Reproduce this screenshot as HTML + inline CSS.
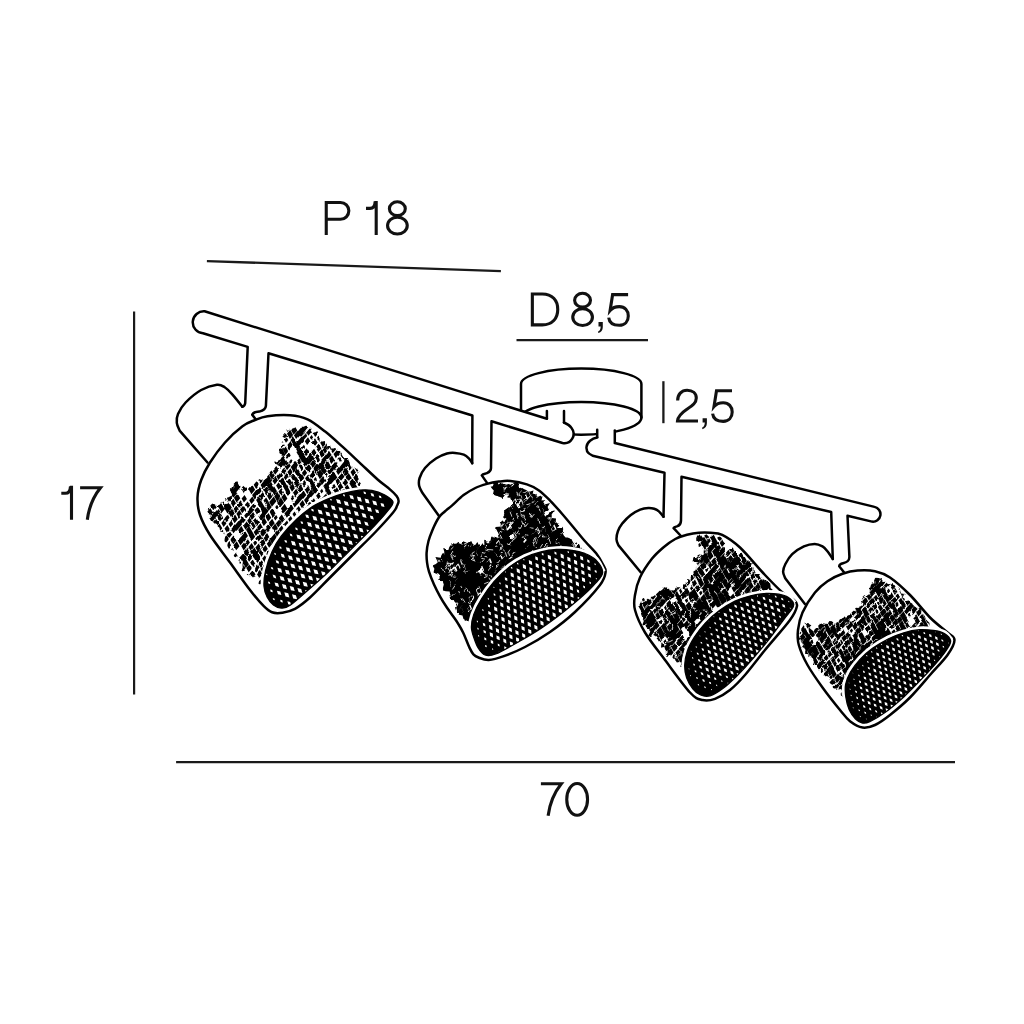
<!DOCTYPE html>
<html><head><meta charset="utf-8"><title>Lamp dimensions</title>
<style>
html,body{margin:0;padding:0;background:#fff;}
body{width:1024px;height:1024px;overflow:hidden;font-family:"Liberation Sans",sans-serif;}
svg{display:block;}
.t{font-family:"Liberation Sans",sans-serif;fill:transparent;stroke:none;}
.g{fill:none;stroke:#111;stroke-width:3.1;stroke-linecap:butt;stroke-linejoin:miter;}
.o{fill:#fff;stroke:#000;stroke-width:2.5;stroke-linejoin:round;stroke-linecap:round;}
.l{fill:none;stroke:#000;stroke-width:2.5;stroke-linejoin:round;stroke-linecap:round;}
</style></head><body>
<svg width="1024" height="1024" viewBox="0 0 1024 1024">
<rect width="1024" height="1024" fill="#fff"/>
<line x1="206.9" y1="261.1" x2="500.9" y2="271.1" stroke="#1a1a1a" stroke-width="2.3"/>
<line x1="516.5" y1="340.2" x2="648" y2="340.2" stroke="#1a1a1a" stroke-width="2.3"/>
<line x1="663.4" y1="381.2" x2="663.4" y2="423.2" stroke="#1a1a1a" stroke-width="2.3"/>
<line x1="134.1" y1="311.4" x2="134.1" y2="694.6" stroke="#1a1a1a" stroke-width="2.2"/>
<line x1="176.1" y1="762.2" x2="955" y2="762.2" stroke="#1a1a1a" stroke-width="2.3"/>
<path class="o" d="M521 384 A60.2 15.4 0 0 1 641.4 384 L641.4 417.5 A60.2 17.2 0 0 1 521 417.5 Z"/>
<path class="l" d="M521 417.5 A60.2 15.6 0 0 1 641.4 417.5"/>
<path class="l" d="M546.9 411 L546.9 419"/>
<path class="l" d="M564 411 L564 422.6"/>
<rect x="597.2" y="428" width="17.6" height="16" fill="#fff"/>
<path class="l" d="M597.2 429.7 L597.2 437.5"/>
<path class="l" d="M614.8 430.5 L614.8 443"/>
<path class="l" d="M242.3 406.8C242.3 406.8 235.4 398 232.5 394.7C229.6 391.4 227.3 388.8 224.7 387.2C222.1 385.6 220.8 384.3 216.9 384.8C213 385.3 206.4 387.1 201.2 390C196 392.9 189.5 398.5 185.6 402.5C181.7 406.5 179.5 410.6 178 414C176.5 417.4 176.5 420 176.8 422.8C177.1 425.6 179.1 429.3 179.6 430.6L207.5 462.5"/>
<path class="l" d="M472.2 463.2C472.2 463.2 470.5 460 469.1 458.6C467.7 457.2 466.2 455.6 463.8 454.6C461.4 453.7 457.8 453.1 455 452.9C452.2 452.7 450.2 452.6 447 453.5C443.8 454.4 439.7 456.1 436 458.5C432.3 460.9 427.7 464.8 425 468C422.3 471.2 420.6 475 419.6 478C418.6 481 418.7 483.5 419.2 486C419.7 488.5 421.9 491.8 422.5 493L439 516"/>
<path class="l" d="M663.5 516.7C663.5 516.7 660.4 512.7 658.9 511.4C657.4 510.1 656 509.4 654.2 508.8C652.5 508.2 650.7 507.8 648.4 507.9C646.1 508 643.1 508.4 640.2 509.6C637.3 510.8 633.7 512.6 630.8 514.9C627.9 517.1 624.8 520.4 622.6 523.1C620.5 525.8 618.9 528.6 617.9 531.3C616.9 534 616.4 537.1 616.5 539.5C616.6 541.9 618.2 544.4 618.5 545.4L640.7 572.3"/>
<path class="l" d="M832.8 559C832.8 559 829.1 553.3 827.4 551.2C825.7 549.1 824.6 547.6 822.5 546.4C820.4 545.2 817.8 543.9 814.7 543.9C811.6 543.9 807.6 544.7 803.9 546.4C800.1 548.1 795.3 551.3 792.2 554.2C789.1 557.1 786.9 561.1 785.4 564C783.9 566.9 783.1 569.4 783.1 571.8C783.1 574.2 785 577.5 785.4 578.6L804.9 604"/>
<path d="M203.6 311 L566 424.8 A9.3 9.3 0 0 1 562.5 443 L202 333 A11 11 0 0 1 203.6 311Z" fill="#fff"/>
<path class="l" d="M546.9 418.8 L204.6 311.3 A10.8 10.8 0 0 0 203 333.3L247.7 346.9 L245.2 403.3 Q244.6 406.4 242.3 406.8"/>
<path class="l" d="M256.6 420.4 L252.2 414.7 C253 412.3 254.9 412 259.3 411.6 C263.7 410.5 265.7 409 265.9 405.9 L268.5 353.3L472.4 415.5 L472.2 463.2"/>
<path class="l" d="M487.9 484.1 L481.8 475.4 C483 473.6 485 474 487 473.2 C490.5 471.8 490.9 470.5 491 468.3 L491.5 421.3L562.5 443 A9.3 9.3 0 0 0 571.5 428 C569.5 424.5 566 423.5 564 422.6"/>
<path d="M614.8 443 L874.5 506.9 A7.46 7.46 0 0 1 872 521.6 L596.9 456.7 A8.8 8.8 0 0 1 597.2 437.5Z" fill="#fff"/>
<path class="l" d="M597.2 437.5 C592 438.5 587 442 586.5 447 C586 452 590 455.5 596.9 456.7L664.5 472.7 L663.5 516.7"/>
<path class="l" d="M681 536 L673.6 528.1 C674.3 526.8 676 526.8 677.5 526.2 C680.3 525 680.9 523.5 681 520.6 L681.5 476.7L831.2 512 L832.8 559"/>
<path class="l" d="M844 572.2 L839.2 566.2 C839.5 564 841 563.6 843 563.2 C847.5 562.3 849.2 561 849.4 557 L847.5 515.8L872 521.6 A7.46 7.46 0 0 0 874.5 506.9 L614.8 443"/>
<path class="o" d="M255 420C259.2 418.3 261.7 417 267.5 416.2C273.3 415.4 283.3 414.7 290 415.2C296.7 415.7 301.7 416.6 307.6 419.3C313.5 422 319.4 427 325.2 431.6C331 436.2 336.8 441.6 342.7 446.9C348.6 452.2 354.4 457.8 360.3 463.3C366.2 468.8 373 475.4 377.9 479.7C382.8 484 386.5 486.4 389.6 489.1C392.7 491.8 395.1 494.1 396.6 496.1C398.1 498.1 398.5 499.4 398.6 501C398.7 502.6 397.9 503.9 397 505.8C396.1 507.7 396.8 508.1 393.1 512.5C389.4 517 381.4 525.8 375 532.5C368.6 539.2 362.5 545 355 552.5C347.5 560 337.5 570 330 577.5C322.5 585 315.8 592.3 310 597.5C304.2 602.7 299.6 606.3 295 608.8C290.4 611.3 286.3 612.1 282.5 612.7C278.7 613.3 275.1 613.4 272 612.3C268.9 611.2 267.5 609.9 263.8 606.2C260.1 602.5 255.6 597.3 250 590C244.4 582.7 236.7 571.7 230 562.5C223.3 553.3 215 542.9 210 535C205 527.1 202.1 521.2 200 515C197.9 508.8 197.3 503.3 197.5 497.5C197.7 491.7 199.1 485.8 201.2 480C203.3 474.2 206 468.8 210 462.5C214 456.2 219.6 448.6 225 442.5C230.4 436.4 237.5 429.9 242.5 426.2C247.5 422.4 250.8 421.7 255 420Z"/>
<path class="o" d="M487 483.9C490.9 482.8 494.9 482.1 498.8 481.6C502.7 481.1 505.8 480.5 510.5 481C515.2 481.5 522.2 482.9 526.9 484.4C531.6 485.9 534.7 487.5 538.6 490.2C542.5 492.9 546.4 496.9 550.3 500.8C554.2 504.7 558.1 509.2 562 513.7C565.9 518.2 569.9 523 573.8 527.7C577.7 532.4 581.6 537.3 585.5 541.8C589.4 546.3 594.3 550.9 597.2 554.7C600.1 558.5 601.6 561.6 603 564.5C604.4 567.4 606.1 568.6 605.6 572C605.1 575.4 605.1 578.3 600 585C594.9 591.7 583.3 604.2 575 612C566.7 619.8 558.3 626.2 550 632C541.7 637.8 532.7 643 525 647C517.3 651 509.9 654 503.9 656.2C497.8 658.4 492.9 659.8 488.7 660C484.5 660.2 481.1 658.5 478.5 657.5C475.9 656.5 474.9 655.9 473.4 654.3C471.9 652.7 471.3 651.5 469.6 647.9C467.9 644.3 465.1 636.7 463.2 632.7C461.3 628.7 459.9 626.5 458.2 623.8C456.5 621 455 619 453.1 616.2C451.2 613.5 448.8 610.5 446.7 607.3C444.6 604.1 442.5 600.9 440.4 597.1C438.3 593.3 435.9 588.6 434 584.4C432.1 580.2 430.1 575.3 429 571.7C427.9 568.1 427.5 566.1 427.1 562.9C426.7 559.7 426.4 556.4 426.6 552.7C426.8 549.1 427.5 544.8 428.5 541C429.5 537.2 430.8 534 432.5 530C434.2 526 436.9 520.4 439 517.3C441.1 514.2 442.7 513.5 444.8 511.5C446.9 509.6 448.8 508.3 451.9 505.6C455 502.9 459.7 498 463.6 495.1C467.5 492.2 471.4 489.9 475.3 488C479.2 486.1 483.1 485 487 483.9Z"/>
<path class="o" d="M675.3 539C679.2 536.9 683.1 535.8 687 534.8C690.9 533.8 694.9 533.1 698.8 532.8C702.7 532.5 706.6 532.5 710.5 532.8C714.4 533.1 717.3 532.3 722.2 534.8C727.1 537.2 732.9 540.8 740 547.5C747.1 554.2 757.9 567.5 765 575C772.1 582.5 777.7 588.3 782.5 592.5C787.3 596.7 791.4 597.8 793.8 600C796.2 602.2 797.6 602.7 797 606C796.4 609.3 795.3 612.7 790 620C784.7 627.3 772.5 640.8 765 650C757.5 659.2 750.8 668.3 745 675C739.2 681.7 735 686 730 690C725 694 719.6 697.1 715 698.8C710.4 700.5 706.7 701 702.5 700C698.3 699 696.2 699.2 690 692.5C683.8 685.8 672.5 670 665 660C657.5 650 650 640.8 645 632.5C640 624.2 636.7 616.2 635 610C633.3 603.8 634.2 600.4 635 595C635.8 589.6 637.2 583.5 640 577.5C642.8 571.5 648 563.8 651.9 558.8C655.8 553.8 659.7 550.5 663.6 547.2C667.5 543.9 671.4 541.1 675.3 539Z"/>
<path class="o" d="M842.5 573.8C847.5 572 852.1 570.9 857.5 570.5C862.9 570.1 869.6 570 875 571.2C880.4 572.4 884.2 573.5 890 577.5C895.8 581.5 903.3 588.3 910 595C916.7 601.7 923.8 611.2 930 617.5C936.2 623.8 943.4 628.8 947.5 632.5C951.6 636.2 954.5 636.2 954.5 640C954.5 643.8 951.6 649.2 947.5 655C943.4 660.8 936.2 667.9 930 675C923.8 682.1 916.7 690.8 910 697.5C903.3 704.2 895.8 710.4 890 715C884.2 719.6 879.6 722.9 875 725C870.4 727.1 866.7 728.1 862.5 727.5C858.3 726.9 853.8 724.1 850 721.2C846.2 718.3 844.6 715.6 840 710C835.4 704.4 827.9 695 822.5 687.5C817.1 680 811.5 672.1 807.5 665C803.5 657.9 800.4 650.8 798.8 645C797.2 639.2 797.4 635.4 798 630C798.6 624.6 799.7 618.8 802.5 612.5C805.3 606.2 810.8 597.7 815 592.5C819.2 587.3 822.9 584.3 827.5 581.2C832.1 578.1 837.5 575.6 842.5 573.8Z"/>
<clipPath id="h1"><path d="M295.6 427L298.9 424.3L300.6 427.4L302.9 428.1L305.9 426.7L308.3 427.3L311.3 425.8L312.5 430.3L314.4 432.5L319.8 430.9L318 435.6L319.7 437.2L319.4 440.6L321.9 441.6L327.5 439.8L326.9 443.5L326.9 446.6L330.2 445.5L331.1 448.4L333.7 448.6L337.6 446.5L336.9 452.1L339.6 451.9L341.3 453.6L342.5 456L344.2 457.9L347.8 458L348.7 460.7L349.9 463.1L350.4 466.2L353.4 466.9L355.9 468.4L358.1 470.1L359.6 472.1L357.9 475.8L358.6 478.2L360.4 480.1L361.2 482.5L361.6 484.5L360.1 486.1L360 488L359.4 490.2L343.8 493.3L328.1 498.8L312.5 506.6L296.9 519L281.2 536.2L271.9 551.9L265.6 570.6L264 586.2L261.4 584.9L258.5 583.8L259.1 580.2L258.1 577.8L256.1 577.1L253.5 578.4L251.9 576.2L247.7 576.1L245 575L244.7 571.9L241.6 571L242.7 566.9L242.5 563.8L238.5 563.6L238.6 560.4L238 557.6L234.6 557.1L233.3 554.8L234.3 550.8L231.6 549.7L226.2 549.3L227.3 546L227.7 543L224.3 541.7L224.7 538.7L225.3 535.6L224.4 533.2L221.3 532.6L220 530.4L219.5 527.7L217.5 526.2L216.8 523.9L213.9 522.8L211.7 521.3L208.3 520.5L208.3 517.9L211.2 513.8L207.4 512.9L204.3 511.7L209.7 508.3L211.1 504.7L213.3 503.6L216.3 504.8L219 505.2L221.2 502.7L223.4 501.6L226.1 504.9L228.4 504.4L227.7 501.8L224.5 498.5L228.5 497.3L231.4 495.7L231.6 493.4L229.3 490.2L231.3 488.6L232.2 486.5L233.7 484.7L235.8 483.1L236.2 480.9L239.3 481.7L240.8 483.5L240.6 486.3L240.9 488.8L242.1 484.8L245.3 487.7L247.6 487.2L249.8 486.4L251.9 485.6L252.7 482.5L254.1 480.8L256 479.9L258.3 479.8L261.2 480.9L263.5 480.3L265.4 479L267.3 477.8L266.3 472.3L270.6 474.7L268.1 470.3L272.6 470.6L274.6 469.2L275.2 466.9L276.9 465.3L274.8 462L278.4 460.6L280.4 459.5L281.5 457.4L283.1 455.9L279.7 454.6L279.3 452L280 448.9L282.1 448.2L282 444.9L284.4 444.5L286.2 443.4L280.8 441.9L286 438.6L282.4 436.8L284.7 434L286.9 433.1L286.5 429.6L289.4 429.4L289.6 423.9L293.8 428.6Z"/></clipPath>
<filter id="wh1" filterUnits="userSpaceOnUse" x="201.7" y="419" width="167.5" height="175.2"><feTurbulence type="fractalNoise" baseFrequency="0.14" numOctaves="2" seed="10"/><feDisplacementMap in="SourceGraphic" scale="3.2" xChannelSelector="R" yChannelSelector="G"/></filter>
<g filter="url(#wh1)">
<path clip-path="url(#h1)" d="M203.8 505.2L206.4 502.1L209.2 507L206.6 510.1ZM207.4 511.5L210.3 507.9L213 512.6L210 516.1ZM209.3 518L214.9 511.3L217.4 515.6L211.8 522.3ZM212.1 523L216.3 517.9L219.2 522.9L215 528ZM216 527.7L219.5 523.5L222.3 528.3L218.8 532.5ZM219.4 533.6L222.6 529.8L225.2 534.4L222 538.2ZM223.3 538.9L226.3 535.3L228.7 539.6L225.7 543.2ZM226.5 544.6L229.6 540.9L232.1 545.3L229 549ZM230.4 550.4L232.5 547.9L234.2 550.9L232.1 553.5ZM232.9 556.3L236.1 552.5L238.7 557L235.5 560.9ZM237.2 562.7L239.4 560.1L240.8 562.5L238.6 565.1ZM239.2 567.4L242.7 563.2L245.5 568.2L242 572.4ZM245.9 578.1L249.1 574.3L251.6 578.8L248.4 582.6ZM210.9 506.3L213.8 502.8L216.1 506.8L213.2 510.3ZM214.8 512.6L217.7 509.1L220.1 513.4L217.2 516.8ZM217.5 517.3L220.7 513.4L223.1 517.7L219.9 521.5ZM221.3 522.9L224.2 519.5L226.4 523.5L223.6 526.9ZM224.5 528.5L227.4 525.1L229.7 529.1L226.8 532.5ZM226.6 534.7L230.1 530.5L232.3 534.3L228.8 538.5ZM230.5 539.2L233.5 535.5L236.4 540.5L233.3 544.2ZM233.4 545.2L236.7 541.3L239.5 546.3L236.2 550.3ZM239.8 557.3L243.5 552.9L245.9 557L242.2 561.5ZM242.1 561.3L245.2 557.6L249 564.2L245.8 567.9ZM246.3 568.1L249.4 564.5L251.7 568.7L248.7 572.3ZM249.8 573.6L252.9 569.9L255.5 574.4L252.4 578.1ZM253 579.8L255.3 577.1L257.1 580.2L254.8 583ZM255.8 585.1L259.9 580.2L262.8 585.3L258.7 590.1ZM214.7 502.6L219.7 496.6L222.4 501.4L217.4 507.4ZM216.8 506L220.4 501.7L224.7 509.3L221.1 513.5ZM224.4 518.4L227.4 514.8L229.6 518.7L226.6 522.3ZM228.6 523.9L231.3 520.6L233.2 524L230.5 527.3ZM231.1 529.2L234 525.8L236.3 529.7L233.4 533.2ZM237.7 540.6L240.8 537L243.4 541.7L240.4 545.3ZM241.2 546L244.1 542.4L246.6 546.8L243.7 550.4ZM243.7 551.7L247 547.8L249.3 551.8L246 555.8ZM246.6 557.4L250.1 553.3L252.5 557.6L249.1 561.8ZM250.2 562.5L252.7 559.4L255.4 564.1L252.9 567.2ZM254 568.2L256.9 564.6L259.3 568.8L256.4 572.4ZM257 574.2L259.9 570.7L262.1 574.5L259.2 578.1ZM260.1 580.4L263.6 576.3L266.1 580.7L262.6 584.8ZM263 585.8L266.1 582L268.9 586.7L265.7 590.5ZM222.1 501.7L225.5 497.7L229.4 504.5L226 508.5ZM224.5 508.5L228.5 503.6L231.4 508.8L227.4 513.6ZM228.2 513.3L232 508.7L234.7 513.4L230.9 517.9ZM231.8 518.4L235.1 514.5L237.8 519.3L234.6 523.2ZM233.9 526.6L239.3 520.1L241.9 524.6L236.5 531.1ZM238.2 529.9L241.4 526.1L244.2 531.1L241 534.9ZM240.4 537.4L245.4 531.4L248 535.9L242.9 541.9ZM244.8 541.7L247.5 538.4L249.9 542.6L247.2 545.9ZM248.5 547L251.7 543L254 547.1L250.8 551ZM251.1 551.5L254.4 547.5L258.1 554L254.8 558ZM254.7 557.6L257.6 554.1L260.2 558.6L257.3 562.1ZM257.6 564L260.8 560.2L263 564.2L259.9 567.9ZM260.1 569.3L263.6 565.1L266.2 569.6L262.6 573.8ZM264.2 574.6L267.6 570.5L270.5 575.6L267.1 579.6ZM226.5 497.6L230.1 493.3L232.5 497.5L228.9 501.8ZM229.8 503.1L233.4 498.8L236 503.3L232.4 507.6ZM233.3 509.2L236.5 505.3L238.8 509.5L235.6 513.3ZM236.4 513.8L239.5 510.1L241.9 514.2L238.8 517.9ZM239.1 520L242.4 516L244.7 520.1L241.4 524ZM242.8 525L246.3 520.8L249.1 525.6L245.5 529.8ZM246 529.8L249.1 526L252.4 531.7L249.2 535.5ZM248.5 536L252.2 531.6L255.2 536.8L251.5 541.3ZM253.2 542.8L255.5 540.1L257.2 543L254.8 545.7ZM255.4 547.5L258.7 543.5L261.5 548.4L258.2 552.4ZM258.3 552.8L260.9 549.7L263.4 554L260.8 557.2ZM262.2 558.5L264.9 555.3L267.4 559.8L264.8 562.9ZM264.4 563.1L267.5 559.4L271.3 566L268.2 569.7ZM227 485.2L230.1 481.5L234.2 488.8L231.2 492.5ZM230.9 492.7L234.4 488.5L237.1 493.2L233.6 497.4ZM233.9 497.8L237.6 493.5L240.3 498.2L236.6 502.6ZM237.6 503.9L240.7 500.2L243.1 504.3L240 508ZM240 509.4L242.9 505.9L245.2 509.8L242.2 513.3ZM244.2 514.5L247.1 510.9L249.3 514.7L246.3 518.3ZM247.2 520.6L250.4 516.8L252.6 520.7L249.4 524.5ZM250 525.1L252.9 521.6L255.7 526.6L252.8 530ZM253.7 532.1L257.1 528.1L259.2 531.9L255.9 535.9ZM256.3 537.5L259.9 533.3L262.2 537.3L258.6 541.5ZM259.6 542.7L263.1 538.5L265.7 543L262.1 547.2ZM262.3 548.8L265.6 544.9L268.2 549.6L264.9 553.5ZM266.4 554.2L269.6 550.4L272.2 555L269 558.8ZM268.9 559.6L272.2 555.7L275.1 560.7L271.8 564.6ZM230.8 480.5L233.9 476.8L237.9 483.9L234.9 487.6ZM233.2 487.8L238.1 482L240.8 486.8L236 492.6ZM241.6 498.6L244.6 495L246.9 499L243.9 502.6ZM244.9 504.7L247.7 501.4L250.1 505.5L247.2 508.9ZM246.4 511.9L251.8 505.4L254.3 509.8L248.9 516.2ZM250.3 515.6L253.2 512.1L255.8 516.6L252.8 520.1ZM253.7 521.1L256.4 517.9L259.1 522.7L256.4 525.9ZM257.1 527.2L260.4 523.2L262.8 527.4L259.5 531.4ZM260.4 532.6L263.9 528.4L266.3 532.6L262.8 536.8ZM263.7 538.1L267.1 534.1L269.3 538L265.9 542.1ZM266.8 543.7L269.7 540.3L272 544.3L269.1 547.7ZM270.1 549.6L273 546.2L275.3 550.3L272.4 553.7ZM241.2 488.4L244.8 484.1L247.7 489.1L244 493.5ZM249.2 500.2L252.4 496.4L254.6 500.2L251.4 504.1ZM252.6 505.8L254.7 503.4L256.2 506L254.1 508.5ZM254.5 510.3L257.4 506.9L259.8 511L256.9 514.4ZM258.4 516.2L261.7 512.2L264.3 516.9L261 520.9ZM261 521.2L264.2 517.4L267 522.2L263.8 526.1ZM264.8 528.2L268.6 523.7L270.9 527.8L267.1 532.3ZM269.5 539.5L274.6 533.4L277.3 538.1L272.2 544.3ZM273.9 543.6L277.1 539.9L280.6 546.1L277.4 549.8ZM247.5 483.3L249.5 481L250.9 483.4L248.9 485.8ZM249 490L252.7 485.6L255.1 489.8L251.4 494.2ZM252.1 495L257 489.1L259.7 493.7L254.7 499.6ZM256.1 499.9L259.2 496.2L261.8 500.7L258.7 504.4ZM257.7 504.2L260.9 500.5L265.1 507.8L262 511.6ZM260.9 512.5L265.6 506.9L268.3 511.6L263.6 517.2ZM265.4 516.8L268.5 513.1L271.2 517.8L268.1 521.5ZM268.8 522.8L272.2 518.8L274.7 523.2L271.3 527.2ZM271.9 527.7L275.2 523.6L277.9 528.3L274.5 532.3ZM274.8 533L278 529.2L280.7 534.1L277.6 537.8ZM277.8 539.7L280.8 536.1L283.4 540.5L280.4 544.1ZM253.7 484.7L256.5 481.3L258.7 485.1L255.8 488.5ZM256.8 490.5L259.9 486.9L262 490.6L259 494.3ZM259.6 495.9L262.8 492L264.7 495.3L261.5 499.2ZM263.5 500.5L266.2 497.4L268.6 501.6L266 504.7ZM265.4 505.6L268.6 501.8L271.6 507.2L268.5 510.9ZM269.8 512.3L272.8 508.7L275.6 513.4L272.5 517.1ZM273.7 517.8L276.2 515L277.7 517.6L275.3 520.5ZM275.8 523.4L279.2 519.4L281.6 523.6L278.2 527.6ZM278.8 529.1L281.8 525.5L284.1 529.6L281.1 533.1ZM282.7 534L285.4 530.9L287.6 534.7L284.9 537.9ZM257.5 478.6L261.3 474.2L264.1 479.2L260.4 483.6ZM260.6 485L264.2 480.6L266.8 485L263.1 489.4ZM264 490.6L267.2 486.8L269.4 490.7L266.3 494.5ZM267 495.8L270.2 492L272.7 496.3L269.5 500.2ZM269.2 502.1L273.8 496.6L276.4 501.3L271.9 506.7ZM275.2 507.1L277.1 504.8L278.6 507.5L276.7 509.8ZM279.2 518.8L282.8 514.4L285.3 518.8L281.7 523.2ZM283.9 524.1L287 520.4L289.3 524.6L286.2 528.2ZM285.9 528.2L289 524.5L292.8 531.2L289.7 534.9ZM263.4 481.1L268.7 474.8L271.2 479.3L266 485.6ZM266.5 485L270.3 480.5L274.1 487.3L270.4 491.7ZM270.7 490.6L274.2 486.4L277 491.2L273.4 495.5ZM273.8 495.5L277.2 491.5L280.5 497.4L277.2 501.4ZM277.2 501.9L281 497.4L284.1 502.7L280.3 507.2ZM280.9 508.4L284.7 503.8L287.5 508.7L283.6 513.3ZM284.4 513.6L288.1 509.2L290.4 513.4L286.8 517.7ZM288.1 519.1L290.8 515.9L293 519.7L290.3 522.9ZM290.5 525.5L293.3 522.1L295.3 525.6L292.5 529ZM268.6 473.8L271.5 470.2L275 476.3L272.1 479.9ZM272.5 480.7L275.8 476.7L278 480.5L274.7 484.6ZM276.1 485.4L278.7 482.3L281.2 486.7L278.6 489.8ZM278.5 491.5L281.4 488L284 492.5L281 496ZM281.4 497.1L284.5 493.5L287.4 498.6L284.4 502.2ZM287.4 508.6L291.2 504L293.8 508.5L290 513.1ZM292.5 513.9L294.6 511.4L296.3 514.4L294.2 516.9ZM294.5 519.7L297.4 516.2L300.2 520.9L297.2 524.5ZM272.9 471L276.3 466.9L278.5 470.6L275.1 474.7ZM276.4 476.3L280 472L282 475.6L278.5 479.9ZM279.5 480.9L282.4 477.4L284.8 481.6L281.8 485.1ZM282 484.8L284.8 481.5L288.8 488.7L286.1 491.9ZM285.5 492.1L288.6 488.4L290.8 492.4L287.8 496ZM290.8 498.5L292.8 496.1L294.1 498.4L292.1 500.8ZM292.3 503.3L295.6 499.4L298 503.5L294.7 507.4ZM296.2 509.1L298.8 505.9L300.8 509.5L298.2 512.7ZM299.2 514.7L302.2 511L304.6 515.2L301.6 518.9ZM274.1 460L277.7 455.6L280.7 460.8L277 465.2ZM277.6 465L280.9 461L283.2 464.9L279.8 468.9ZM281.1 471.1L284.3 467.4L286.4 471L283.2 474.8ZM283.2 476.2L286.2 472.5L288.5 476.5L285.4 480.2ZM286.6 481.7L289.5 478.2L292.3 483.1L289.4 486.6ZM289.5 487.2L292.7 483.4L295.2 487.8L292 491.7ZM292.7 492.9L296.2 488.7L298.8 493.2L295.2 497.4ZM294.9 500.1L300.3 493.7L302.8 498.2L297.5 504.6ZM299.5 504L302.7 500.1L305.1 504.4L301.9 508.2ZM303.5 509.9L306.4 506.4L308.3 509.7L305.4 513.3ZM273.9 450.1L279.4 443.5L282.4 448.8L276.9 455.4ZM276.4 455.3L282 448.6L285 453.9L279.4 460.6ZM280 459.6L283.5 455.4L287.5 462.4L283.9 466.6ZM284.7 466.4L288.5 461.9L290.7 465.8L287 470.2ZM287.4 471.9L290.4 468.3L292.9 472.7L289.9 476.2ZM291 476.9L293.8 473.6L296.3 478L293.5 481.4ZM293.1 481.1L296.5 477L300.3 483.7L296.9 487.8ZM297.3 488.4L300.9 484.1L303.3 488.3L299.7 492.6ZM300.4 494.4L303.6 490.4L306.3 495.1L303 499.1ZM304 499.9L307.4 495.9L309.9 500.3L306.5 504.3ZM307.2 505.8L310.6 501.7L312.9 505.9L309.5 510ZM310.2 510.6L313.5 506.7L316.2 511.4L312.9 515.3ZM279.6 444.6L282.4 441.2L284.8 445.3L281.9 448.7ZM282.9 449.9L285.7 446.6L288 450.7L285.2 453.9ZM286 455.7L288.9 452.2L290.7 455.5L287.9 458.9ZM289.2 461.5L291.2 459.1L292.5 461.4L290.5 463.8ZM290.7 466.9L295.7 460.9L298.4 465.7L293.4 471.7ZM294.5 470.8L297.2 467.5L301.4 474.7L298.6 478ZM298.3 477.1L301.6 473.2L304.3 478.1L301.1 482ZM302.3 483.7L304.5 481.1L306.2 484L304 486.6ZM304.6 489.2L308 485.1L310.8 490L307.3 494.1ZM306.8 495.8L312.1 489.5L314.3 493.5L309 499.8ZM312.1 500.4L313.9 498.3L315.4 500.9L313.6 503.1ZM279.2 432L282.6 427.9L287 435.5L283.5 439.6ZM284.1 439.4L286.3 436.7L288.2 440.1L286 442.7ZM286.4 444.9L290.1 440.5L292.8 445.2L289.1 449.6ZM296.8 461.2L299.4 458.2L301.6 461.9L299 465ZM298.8 466.7L301.4 463.5L304 468.2L301.4 471.3ZM302 472.7L304.9 469.3L307.1 473L304.2 476.5ZM305.1 478.2L308.2 474.5L310.9 479.2L307.8 482.9ZM308.4 482.4L311.6 478.6L315.5 485.5L312.3 489.3ZM312.2 489.5L315.4 485.7L317.7 489.7L314.5 493.5ZM315.1 495.7L318.1 492.1L320.7 496.5L317.7 500.1ZM317.8 501.9L322.7 496L324.9 499.9L320 505.8ZM283.8 429L287.1 425.1L289.5 429.3L286.2 433.2ZM287 433.7L290.2 429.8L293.1 435L289.9 438.9ZM290.6 439.9L293.8 436.1L296.4 440.7L293.2 444.5ZM292.6 444.8L296.4 440.3L300.3 447L296.5 451.6ZM296.7 451.5L300.6 446.7L303.3 451.4L299.3 456.2ZM298.4 455.7L302.1 451.3L306.1 458.2L302.4 462.6ZM302.6 461.6L305.9 457.7L308.8 462.8L305.5 466.7ZM305.8 467.8L309 464L311.6 468.5L308.4 472.4ZM309.8 474.2L313.3 470L315.8 474.2L312.2 478.5ZM313.7 479.3L315.6 477.1L316.9 479.3L315 481.6ZM316.3 484.5L319.3 480.9L321.5 484.6L318.4 488.3ZM320.1 491L321.9 488.8L323.3 491.2L321.5 493.4ZM322.6 496.6L325.6 493L327.7 496.7L324.7 500.3ZM325.3 501.4L328.3 497.9L331.2 502.9L328.2 506.4ZM291.1 430.3L294.7 425.9L297.3 430.5L293.7 434.8ZM294.5 434.4L297.6 430.7L300.2 435.2L297.1 438.9ZM296.5 442.5L301.7 436.4L303.9 440.3L298.8 446.4ZM301.8 447.3L303.9 444.7L305.1 446.8L303 449.4ZM303.6 452L306.7 448.2L309.2 452.5L306 456.3ZM306 458.7L311.1 452.6L313.9 457.6L308.8 463.7ZM310 463.1L313.4 459L316.1 463.8L312.7 467.9ZM313.4 468.7L317.5 463.8L320.4 468.8L316.3 473.7ZM317 474.1L320.6 469.8L323.5 474.9L319.9 479.2ZM319.4 480.5L322.9 476.4L325.3 480.7L321.9 484.9ZM323.3 486.1L326.7 482L329.1 486.2L325.7 490.3ZM325.4 490.6L328.8 486.6L332.5 493L329.1 497ZM330.4 496.9L332 494.9L333.7 497.8L332 499.8ZM297.5 431.8L302.8 425.5L305.6 430.3L300.2 436.7ZM301.5 436.2L305.1 432L307.3 435.9L303.7 440.1ZM304.8 441.2L308 437.3L310.3 441.2L307.1 445.1ZM311.7 451.6L314.1 448.7L316.7 453.2L314.3 456.1ZM314.6 458L317.3 454.8L319.9 459.4L317.2 462.6ZM318.4 464.5L321.5 460.8L323.7 464.6L320.6 468.3ZM319.7 468.1L322.9 464.3L326.9 471.3L323.8 475.1ZM325.4 475.1L327.2 472.9L328.7 475.5L326.9 477.7ZM325.8 481.4L331.1 475.2L333.7 479.7L328.4 486ZM332 486.3L334.2 483.8L335.8 486.7L333.7 489.2ZM333.9 490.9L336.9 487.2L339.9 492.5L336.9 496.1ZM336.5 497.7L339.8 493.7L342.6 498.6L339.3 502.6ZM302.9 425.6L306.1 421.8L308.7 426.4L305.5 430.2ZM306.1 431.8L309.7 427.6L311.9 431.5L308.4 435.7ZM309.8 437.3L311.7 435L313.1 437.4L311.2 439.7ZM311.9 441.9L315 438.2L317.6 442.8L314.5 446.5ZM315.7 447.3L318.7 443.7L321.4 448.5L318.4 452.1ZM318.9 453L322.1 449.1L324.9 454L321.7 457.8ZM321 460.3L326 454.4L328.6 458.9L323.6 464.8ZM324.5 465L327.9 461L330.4 465.4L327 469.4ZM327.2 471.2L332.1 465.4L334.3 469.2L329.4 475ZM330.8 474.9L333.7 471.4L337.3 477.6L334.3 481.1ZM335.4 480.9L338.1 477.7L340 481.2L337.4 484.4ZM337.7 486.2L340.6 482.7L343.4 487.6L340.5 491ZM340.9 493.1L344.3 489L346.9 493.6L343.5 497.7ZM312.7 432.6L316.6 428L319.1 432.3L315.2 437ZM317 437.5L320.1 433.8L322.5 438L319.4 441.7ZM320.2 442.7L322.8 439.6L325.4 444.2L322.8 447.3ZM322.6 448.7L325.5 445.3L327.8 449.3L324.9 452.7ZM325.7 454.6L329 450.7L331.6 455.1L328.3 459.1ZM328.7 459.3L332 455.4L334.6 460L331.3 464ZM332.1 465.5L335.2 461.7L338 466.6L334.9 470.4ZM336.1 471.3L339.4 467.5L341.5 471.2L338.2 475.1ZM338.7 476.8L342.1 472.7L344.4 476.7L341 480.8ZM342.5 481.9L345.5 478.3L348.1 482.8L345.1 486.3ZM344.8 487.4L347.4 484.4L350.1 489.2L347.5 492.2ZM348.1 492.9L351.3 489L353.6 493.1L350.5 496.9ZM325.5 444.9L330.9 438.5L333.5 443.1L328.2 449.5ZM330 448.6L333.4 444.6L336.1 449.3L332.7 453.3ZM333.5 454.1L336.8 450.2L339.4 454.8L336.1 458.7ZM337.4 460.1L339.2 457.9L340.8 460.7L339 462.9ZM339.3 467.4L344.1 461.6L346.5 465.8L341.7 471.5ZM342.7 471.5L346.1 467.4L348.7 471.9L345.3 476ZM345.7 476.5L348.7 472.9L351.8 478.3L348.8 481.9ZM349.3 483.3L352.9 479L355.6 483.8L352 488.1ZM351.7 488.4L355.4 484L358.1 488.6L354.3 493.1ZM355 493.9L358.6 489.7L361.2 494.3L357.7 498.5ZM336.5 450.4L340.1 446.1L342.7 450.6L339.1 454.9ZM340.3 454.8L343.8 450.6L346.6 455.6L343.1 459.7ZM343.1 459.9L346.8 455.5L350.4 462L346.8 466.4ZM347.1 466.3L350.3 462.4L352.8 466.6L349.5 470.5ZM350.5 472.1L353.6 468.4L356 472.7L352.9 476.4ZM353.3 477.5L356.1 474.2L358.9 479.1L356.1 482.4ZM357.6 483.3L359.7 480.8L361.1 483.2L359 485.7ZM359.8 488.9L363.8 484.2L366.5 489L362.6 493.8ZM350.5 461.5L353.8 457.4L356.2 461.5L352.8 465.5ZM354 466.8L357.1 463.1L360.1 468.2L357 471.9ZM357.8 473.4L361 469.6L363.5 474L360.3 477.8Z" fill="#000"/>
</g>
<clipPath id="h2"><path d="M490.6 486.7L492.8 486.3L494.4 481.7L496.7 481.7L499.1 482.6L501.3 482.3L503.8 483.9L506.2 484.4L508.6 483.9L510.7 484.8L513.3 482.8L515.7 482.4L517.8 483.4L519.5 487.2L521.9 486.7L523.8 488.1L526.4 488.5L527.4 491.6L530.2 491.4L533.4 490.6L534.4 493.8L536.5 495.1L537.2 497.7L542.5 496.3L541.5 500.4L545.2 500.3L543.8 504.7L550 503L546.9 508L549.6 508.8L549.2 511.8L555.2 510.3L551.6 515.6L552 518L556.1 518.5L555.7 521.4L557.1 523.2L560.4 524.2L557.8 528.1L563.6 526.5L563.2 529.9L562.7 533.5L564 535.7L565.6 537.5L568.7 537.6L571.1 538.6L572.5 540.9L573.4 543.8L576.8 542.6L578.3 544.6L580.6 545.1L581.4 548.6L583.5 549.5L586 550.4L586 553L584.7 553.4L572.2 550.3L556.6 549.5L540.9 551.9L525.3 557.3L509.7 566.7L494 581.6L481.6 598.8L473.8 614.4L471.4 626.9L470 624.8L469.3 622.4L468 620.3L464.2 621L463.3 618.4L462.5 615.6L459 614.7L457.4 612.7L456.7 610.2L456.1 607.6L456.2 604.7L454.6 602.7L453.4 600.5L450.6 599.2L450.9 596.2L450 593.8L449.6 591.4L445.8 591.2L442.9 590.4L443 587.6L443.8 584.4L443.1 582.4L442.7 580.3L439.2 579.7L439.7 577.1L439.1 575L436.5 573.7L433.4 572.8L434.4 568.8L432.5 565.6L435.9 564L437.8 562.2L435.4 557.1L440.6 557.8L441.3 555.4L442.4 553.4L444.5 552.4L443.1 547.8L448.4 550L449.3 547.1L450.9 545.1L452.7 543.5L456.2 543.8L458.3 542.1L460.9 543L463 541.2L465.6 542.2L467.7 543.6L471.2 541L472.8 544L475 545.3L477.4 542.1L479.7 546.4L482 543.9L484.4 545.3L484.2 540.7L488.5 542.1L490.6 540.6L491.2 537.1L493 535.7L497.2 538.4L498.4 535.9L497.2 532.9L495.2 529.6L495.5 527.1L501.6 526.6L501.8 524.1L499.8 520.3L505 520.7L506.2 518.8L503 516.2L504.3 513.9L503.9 511.5L507 509.4L508.3 507.4L510.2 505.8L511.8 504L512.5 501.6L509.7 500.4L510.7 497.8L505.4 497.6L509.4 493.8L506.6 493.2L504.6 495.2L503.1 498.3L500 496.9L497.5 496.3L494.9 495.7L492.8 494.7L493.8 490.6L492.1 488.7Z"/></clipPath>
<filter id="wh2" filterUnits="userSpaceOnUse" x="426.4" y="476.4" width="167.6" height="158.5"><feTurbulence type="fractalNoise" baseFrequency="0.14" numOctaves="2" seed="23"/><feDisplacementMap in="SourceGraphic" scale="3.2" xChannelSelector="R" yChannelSelector="G"/></filter>
<g filter="url(#wh2)">
<path clip-path="url(#h2)" d="M429.9 562.5L434.6 557.2L437.3 563.5L432.6 568.8ZM431.9 568.6L436.6 563.3L439.1 569.4L434.4 574.7ZM434.3 572.6L439 567.3L442.3 575.3L437.6 580.6ZM437.4 579.2L441.8 574.2L444 579.7L439.6 584.7ZM439.7 584L443.3 579.9L445.8 586L442.3 590ZM441.5 588.4L445 584.3L447.5 590.2L443.9 594.3ZM443.6 594.6L447.5 590.2L449.7 595.5L445.8 600ZM433.3 558L437.9 552.7L440.7 559.5L436 564.7ZM436.3 564L440.8 559L443.2 564.8L438.7 569.8ZM439.1 569L443.3 564.3L445.4 569.4L441.2 574.1ZM440.9 574L445.4 568.9L447.8 574.8L443.3 579.9ZM442.8 578.8L447.1 574L449.7 580.2L445.4 585ZM444.9 584.7L448.6 580.4L451.3 586.9L447.5 591.2ZM447 590.3L451.2 585.5L453.8 591.8L449.6 596.5ZM448.8 597.2L454.6 590.7L456.8 595.8L451 602.4ZM451.6 600.6L455.8 595.8L458 601.1L453.8 605.8ZM454.7 605.8L458.5 601.5L460.8 606.8L456.9 611.1ZM456.7 611.3L460.4 607.2L462.5 612.3L458.9 616.5ZM458.7 616.2L462.5 611.8L464.9 617.4L461 621.8ZM436.4 552.3L441.1 547L444.8 555.9L440.1 561.2ZM439.6 560.6L445.6 553.7L448.1 559.7L442.1 566.6ZM441.6 565.1L446.3 559.7L448.5 565L443.8 570.3ZM444.7 570.6L449.2 565.5L451.6 571.2L447.1 576.4ZM446.8 574.7L450.9 570.2L453.3 576.1L449.3 580.7ZM448.9 580.2L452.8 575.8L455.5 582.2L451.6 586.7ZM450.8 586L455.2 580.9L457.8 587.2L453.4 592.3ZM453.1 591.4L457.8 586L460.6 592.7L455.9 598ZM454.9 596.3L459.8 590.7L462.4 597.2L457.5 602.8ZM458 601.4L462.2 596.7L464.6 602.5L460.4 607.2ZM460.5 607.2L464.2 603.1L466.5 608.6L462.8 612.7ZM462.8 612.8L466.5 608.6L468.4 613.4L464.8 617.5ZM463.7 618.1L467.9 613.4L470.4 619.4L466.2 624.1ZM466 622.5L470.3 617.6L473 624.1L468.7 629ZM468.2 627.5L472.6 622.6L475.4 629.5L471.1 634.4ZM442.4 549.2L446.3 544.9L448.7 550.8L444.9 555.1ZM443.4 555.3L447.5 550.8L449.9 556.6L445.8 561.1ZM446.8 560L451 555.3L453.2 560.7L449 565.4ZM450 566.2L452.7 563.1L454 566.3L451.3 569.4ZM452.2 570.9L454.5 568.3L456 572L453.7 574.6ZM452.2 575.4L456 571.1L458.6 577.3L454.8 581.5ZM454.6 582L459 577L461.3 582.7L456.9 587.7ZM456.9 586.6L461.3 581.6L463.9 587.9L459.5 592.8ZM458.8 592.5L463.5 587.2L466 593.2L461.3 598.4ZM461 597L465.7 591.8L468.3 598L463.6 603.3ZM463.8 602.8L468.5 597.5L471 603.5L466.3 608.8ZM466.8 608.5L469.4 605.7L470.7 609L468.2 611.9ZM467.6 614.1L473.4 607.6L475.9 613.6L470.1 620.1ZM470 619L474 614.5L476.5 620.5L472.5 625ZM472.2 623.4L476.2 618.9L478.6 624.8L474.7 629.3ZM445.6 546L450.3 540.7L453 547L448.3 552.3ZM447 550.4L451.3 545.6L454.5 553.2L450.2 558.1ZM450.5 556.8L454.9 551.8L456.9 556.6L452.5 561.5ZM452.2 561.6L456.1 557.2L458.5 562.9L454.6 567.3ZM456 567.2L458.4 564.5L459.8 568L457.4 570.7ZM455.3 573.1L461 566.7L463.6 573L458 579.4ZM459 577.5L463.2 572.9L465.6 578.7L461.4 583.3ZM461.1 583.1L465.6 578L467.9 583.5L463.4 588.6ZM463 587.8L467.2 583L469.7 589L465.5 593.8ZM465.7 592.7L469.9 587.9L472.3 593.7L468 598.5ZM469 598.2L471.3 595.6L472.8 599.1L470.5 601.7ZM470 604.1L474.5 599.1L476.8 604.6L472.3 609.6ZM471.2 609.4L475.9 604.1L478.7 610.7L474 616ZM474.1 614.4L478.3 609.7L481.1 616.5L476.9 621.2ZM450.7 547.5L457 540.3L459.5 546.3L453.2 553.5ZM453.9 552L458.6 546.6L461.2 552.7L456.4 558ZM455.7 557L460.3 551.7L462.7 557.4L458 562.7ZM458.4 562L462.1 557.7L464.6 563.8L460.9 568ZM460 567.5L463.9 563L466.2 568.6L462.3 573.1ZM462.9 573.2L466.7 568.9L469.1 574.6L465.2 578.9ZM463.9 579L470.2 571.9L472.7 577.9L466.4 585ZM466.7 583.5L471.2 578.5L473.6 584.2L469.1 589.3ZM468.3 587.9L472.5 583.1L476 591.6L471.8 596.4ZM471.9 593.5L475.6 589.3L477.9 594.9L474.2 599.1ZM473.5 599.7L477.4 595.2L479.4 600.1L475.5 604.5ZM475.6 605.4L479.7 600.8L482 606.3L477.9 610.9ZM455.1 542.4L459.3 537.6L461.6 543L457.3 547.8ZM457.2 547.3L461.5 542.4L463.9 548.2L459.6 553.1ZM459.1 552.4L463.7 547.1L466.3 553.3L461.6 558.6ZM461.4 558.2L466 553L468.8 559.9L464.2 565.1ZM464.5 562.8L468.7 558L471.4 564.4L467.1 569.2ZM466 567.4L469.9 562.9L473.6 571.7L469.6 576.2ZM467.6 572.9L472 568L475.5 576.4L471.1 581.3ZM469.8 579.8L476 572.8L478.6 578.8L472.3 585.9ZM472.5 585.1L476.7 580.4L479.1 586.2L474.9 591ZM476.7 590.3L479.2 587.5L480.6 590.8L478.1 593.7ZM477.8 596.1L482.3 591L484.5 596.4L480 601.5ZM479.1 600.8L483.4 595.9L485.9 601.8L481.6 606.7ZM459.3 538.7L463.5 533.9L465.7 539.1L461.5 543.9ZM461.2 543L465.5 538.1L467.7 543.5L463.4 548.4ZM463.9 549.1L467.9 544.6L470.1 549.9L466.1 554.4ZM465.6 553.3L469.7 548.7L472 554.3L467.9 559ZM468.4 558.3L472.4 553.9L474.9 560L471 564.4ZM470.4 564.4L475 559.2L477.5 565.3L473 570.5ZM471.6 569L476.1 563.9L478.8 570.3L474.3 575.5ZM476.1 575.1L479 571.8L480.6 575.7L477.7 579ZM476.3 580.3L480.7 575.3L483.2 581.3L478.8 586.3ZM478.8 585.2L482.8 580.7L485.9 588.2L481.9 592.7ZM480.5 590.8L484.8 586L487.2 591.8L482.9 596.6ZM465.6 539.5L470 534.4L472.3 540L467.9 545ZM467.1 544.6L471.3 539.8L473.8 545.5L469.5 550.4ZM469.1 549.3L473.1 544.8L475.4 550.1L471.3 554.7ZM471.6 553.3L474.9 549.6L478.2 557.5L474.9 561.2ZM473.7 559.9L477.6 555.5L479.8 560.8L475.9 565.2ZM475.9 565.3L480.5 560.1L482.9 565.7L478.3 570.9ZM480.5 576.3L485.2 571L487.9 577.5L483.2 582.8ZM482.8 581.9L487.4 576.7L490 582.9L485.4 588.1ZM486.4 587.2L489.1 584.2L490.4 587.5L487.8 590.4ZM487 591.7L491.5 586.6L493.9 592.3L489.4 597.3ZM473 544.9L477.1 540.2L479.7 546.5L475.6 551.2ZM475.9 551L480.2 546.1L482.7 552.1L478.4 556.9ZM477.8 556.5L482.2 551.5L484.5 557L480.1 562ZM480.3 560.8L484.4 556.2L486.9 562.1L482.8 566.7ZM482 566.3L486.3 561.4L488.6 566.8L484.2 571.6ZM484 571.4L488.1 566.7L490.6 572.7L486.5 577.4ZM486.9 576.8L490.8 572.4L493 577.9L489.2 582.3ZM488.1 581.8L492.4 576.9L495.8 584.9L491.4 589.8ZM479.5 546.2L483.8 541.3L486.3 547.4L482 552.3ZM480.7 551.8L485.1 546.8L487.7 553.1L483.3 558.1ZM483 556.3L487.8 551L490.5 557.6L485.8 562.9ZM486.6 562.7L489.3 559.6L490.7 563.1L488 566.2ZM488.3 567.5L492.4 562.9L494.9 568.9L490.8 573.5ZM490.2 573.1L494.2 568.5L496.3 573.4L492.2 578ZM492.1 576.6L496.1 572L499.2 579.4L495.1 584ZM482.2 540.6L486.2 536.2L489.8 544.9L485.8 549.3ZM484.9 547.6L489.3 542.6L491.7 548.4L487.3 553.4ZM487.8 552.6L492.5 547.2L494.9 553.1L490.2 558.4ZM489.8 557.2L494.5 551.8L497.3 558.5L492.5 563.9ZM491 563.5L495.7 558.1L498.5 564.8L493.7 570.2ZM494.2 568L498.4 563.2L501 569.5L496.8 574.3ZM495.8 574.7L501.8 568L504.1 573.6L498.1 580.4ZM498.5 578.6L502.7 573.8L505.1 579.4L500.9 584.2ZM487.2 537.4L490.9 533.2L493.3 539.1L489.6 543.3ZM489.5 543.5L493.6 538.8L496 544.5L491.9 549.1ZM491.4 548.3L495.9 543.3L498.4 549.4L493.9 554.5ZM493.5 553.5L497.8 548.5L500.5 554.9L496.1 559.8ZM495.2 558.6L499.4 553.8L501.9 559.8L497.7 564.6ZM496.8 565.4L503.1 558.3L505.3 563.6L499 570.7ZM501.6 569.6L504.3 566.5L505.7 569.9L503 573ZM501.5 575L505.9 570L508.5 576.3L504.1 581.3ZM492.6 538.4L496.8 533.7L499.1 539.4L495 544ZM496.2 544.3L498.8 541.3L500.4 545.2L497.8 548.1ZM497.2 548L501.6 543L505.1 551.5L500.8 556.4ZM501.2 554.5L503.8 551.6L505.3 555.2L502.7 558.1ZM501.5 560L505.7 555.3L507.7 560.2L503.5 564.9ZM504 564.6L508 560.1L510.2 565.5L506.2 570.1ZM506 570.1L510 565.5L512.4 571.1L508.3 575.7ZM494.3 527.5L498.5 522.7L502 531.2L497.8 536ZM496.3 534L500.4 529.4L502.9 535.4L498.8 539.9ZM498.7 539.7L502.9 534.9L505.5 541.2L501.3 546ZM500.9 543.9L505.3 539L508.9 547.5L504.5 552.5ZM503 549.6L507.1 545L509.6 550.8L505.5 555.5ZM504.9 555.8L509.3 550.8L511.8 556.6L507.3 561.7ZM506.9 560.2L511.1 555.4L514.3 563L510 567.8ZM510.4 566L514.4 561.5L516.8 567.1L512.8 571.6ZM497.4 526L503 519.7L505.5 525.6L499.9 531.9ZM500.4 529.8L504.9 524.7L507.4 530.8L502.9 535.8ZM502.7 535.1L507.3 529.9L510.1 536.6L505.5 541.9ZM504.6 540L509.4 534.7L512.9 543.3L508.2 548.6ZM506.6 545.4L511.2 540.2L513.8 546.5L509.2 551.7ZM509.2 551.1L513.3 546.6L515.3 551.6L511.3 556.2ZM511.3 557.1L515.7 552.2L517.8 557.3L513.5 562.2ZM513.1 563L519 556.4L521.3 562.1L515.5 568.7ZM486.9 483.6L491.3 478.6L493.6 484.4L489.2 489.3ZM488.5 487.8L492.8 482.9L495.6 489.5L491.2 494.4ZM491.4 494.3L495.6 489.6L498.1 495.6L493.9 500.4ZM500.7 514.4L504.2 510.4L506.5 516.1L503.1 520ZM502.1 520.7L505.6 516.8L507.8 522.2L504.4 526ZM505.7 525.4L508.1 522.7L509.4 525.8L507 528.5ZM506.9 531.4L511.1 526.7L513.5 532.4L509.3 537.2ZM509.5 542.4L516.1 534.9L518.7 541.2L512.1 548.6ZM513 546.4L517.6 541.2L520.2 547.5L515.6 552.7ZM515 552.3L519.4 547.3L521.8 553L517.4 558ZM517.8 557.1L522.1 552.3L524.5 558.1L520.2 563ZM519.4 562.8L523.2 558.5L525.7 564.4L521.9 568.7ZM492.3 483.7L496.3 479.2L499.2 486.1L495.2 490.7ZM494.6 489.2L499.1 484.1L501.9 490.8L497.4 495.9ZM497.3 495L501.5 490.3L504 496.3L499.8 501ZM501.2 505.9L505.4 501.2L507.8 507.1L503.7 511.8ZM503.2 511.5L507.4 506.6L509.8 512.3L505.5 517.1ZM504.9 514.9L509 510.3L512.5 518.8L508.5 523.4ZM508.8 521.1L511.4 518.3L512.8 521.7L510.3 524.5ZM510.8 525.8L514.6 521.4L517.2 527.7L513.4 532ZM512.7 532.2L517 527.4L519.5 533.5L515.2 538.4ZM515.5 536.7L519.3 532.4L521.6 537.9L517.8 542.2ZM517.5 542L521.6 537.4L524 543.2L520 547.8ZM519.2 548.2L523.7 543.1L526.1 548.7L521.6 553.8ZM521.2 553.5L525.8 548.3L528.5 554.8L523.9 560ZM523 556.9L526.8 552.5L530.4 561.3L526.6 565.6ZM498.2 485.3L502.4 480.5L505.1 487.1L500.9 491.8ZM500.1 490.5L504.8 485.1L507.4 491.3L502.6 496.7ZM505.2 500.2L509.3 495.6L512.8 504.1L508.7 508.7ZM507.2 505.9L511.4 501.2L514 507.4L509.8 512.1ZM510.3 511.5L514.4 506.8L516.8 512.5L512.6 517.2ZM511.4 517.3L515.6 512.6L518 518.6L513.9 523.3ZM513.9 522.5L518.6 517.1L521.2 523.4L516.5 528.7ZM515.8 527.1L519.9 522.4L522.6 528.7L518.5 533.4ZM517.8 533.4L523.7 526.7L526.2 532.6L520.3 539.3ZM521.7 538.6L524 536L525.3 539.2L523 541.7ZM523.1 544.2L527.5 539.2L529.5 544.1L525.1 549ZM525.2 549.3L529.3 544.6L531.7 550.3L527.5 555ZM527.4 554.5L531.6 549.9L534.1 556L530 560.6ZM502.8 480.1L506.5 475.9L509 481.8L505.3 486.1ZM505.1 486.6L509.7 481.4L511.9 486.7L507.3 491.9ZM505.8 493.2L512.1 486.1L514.6 492.2L508.3 499.2ZM508.8 497.5L513.5 492.2L515.8 497.9L511.1 503.3ZM512.4 502.7L515 499.8L516.5 503.4L513.9 506.4ZM513.2 507.1L517 502.8L519.5 508.9L515.8 513.2ZM516.2 512.5L520.4 507.8L522.7 513.3L518.5 518ZM518.1 518.1L522.6 513L525.3 519.7L520.8 524.7ZM519.6 521.4L523.8 516.5L527.5 525.3L523.2 530.2ZM522.1 528.8L526.6 523.7L529.1 529.8L524.6 534.9ZM524.1 533.9L529 528.4L531.6 534.6L526.7 540.1ZM526.2 539.3L530.5 534.4L532.8 540.1L528.5 544.9ZM528 543.5L532.2 538.8L535.5 546.7L531.3 551.4ZM531.5 549.5L534.9 545.7L537.2 551.3L533.8 555.1ZM532.9 555.1L536.7 550.8L539.1 556.5L535.3 560.9ZM508 481.7L512.3 476.8L514.6 482.3L510.3 487.3ZM511.2 487.6L515.6 482.7L517.9 488.2L513.5 493.1ZM512.9 492.9L517.1 488.2L519.3 493.4L515.1 498.2ZM515.2 497.5L518.8 493.4L521.2 499.2L517.6 503.3ZM518.8 503.8L521.3 501L522.7 504.4L520.2 507.2ZM519.3 508.6L523.8 503.5L526.3 509.5L521.8 514.5ZM520.3 515.3L526.6 508.1L529.1 514.1L522.8 521.3ZM523.9 518.4L528.3 513.4L530.8 519.7L526.5 524.6ZM526.1 523.9L530.6 518.9L533.1 525.1L528.7 530.1ZM527.8 529.3L532 524.6L534.5 530.4L530.2 535.2ZM530.8 535.3L535.4 530L537.8 535.8L533.2 541.1ZM533.9 540.9L536.4 538.1L538 541.8L535.5 544.6ZM533.9 546.2L540 539.3L542.8 546L536.7 552.9ZM535.7 551.8L541.4 545.4L543.9 551.4L538.3 557.9ZM513.7 482.8L518.3 477.5L520.9 483.7L516.2 488.9ZM516.2 488.6L520.6 483.6L522.8 488.9L518.4 494ZM519.4 493.6L523.1 489.3L525.3 494.6L521.6 498.8ZM521 498.6L524.7 494.4L526.9 499.7L523.2 503.9ZM522.8 504.9L528.2 498.8L530.4 504.2L525 510.4ZM526 509.5L530.1 504.9L532.8 511.5L528.7 516.1ZM527.8 514.9L532.3 509.8L534.9 516.1L530.4 521.1ZM529.9 520.3L534.1 515.6L536.6 521.5L532.4 526.2ZM531.6 526.1L535.9 521.2L538.2 526.6L533.8 531.5ZM535.1 530.9L537.7 527.9L539.1 531.1L536.4 534.1ZM535.9 536.1L540.4 531.1L543 537.3L538.5 542.3ZM538.5 541L542.5 536.5L545 542.6L541 547.1ZM540.4 547.3L546.3 540.6L549.1 547.5L543.2 554.2ZM542.9 552.4L548 546.7L550.7 553.3L545.7 559ZM519.2 484.2L525.4 477.1L528.2 483.8L522 490.8ZM522.7 488.5L527 483.7L529.7 490.2L525.4 495.1ZM526.1 494.5L528.5 491.7L530.1 495.5L527.7 498.2ZM526.8 500.2L531 495.4L533.2 500.7L529 505.5ZM529.2 505.6L533.2 501L535.7 506.8L531.6 511.4ZM531.2 510.6L535.4 505.9L537.9 511.8L533.7 516.6ZM533.4 515L537.5 510.3L540.8 518.2L536.6 522.9ZM535.4 521.1L539.9 516L542.2 521.4L537.6 526.5ZM537.8 526.2L542.1 521.4L544.4 527L540.1 531.8ZM540.1 531.9L544.1 527.4L546.5 533.2L542.5 537.8ZM542.5 536.4L546.5 531.8L548.9 537.6L544.9 542.2ZM544.4 542.4L548.2 538.1L550.6 543.9L546.8 548.2ZM546.4 547.3L550.9 542.3L553.4 548.2L548.9 553.2ZM548.7 552.5L553.7 546.9L557.2 555.2L552.2 560.8ZM528.8 491L533.1 486.1L535.5 491.8L531.1 496.6ZM532 496.3L534.8 493L536.4 496.8L533.5 500.1ZM532.1 498.8L536.6 493.7L540.4 503L536 508ZM535.2 506.2L539.8 501L542.5 507.4L537.9 512.7ZM537.3 512L541.6 507L544.1 513L539.7 517.9ZM540.2 517.5L544.5 512.7L546.8 518.2L542.5 523ZM542.3 522.6L546.6 517.7L548.9 523.4L544.6 528.2ZM543.8 526.4L547.6 522.1L551.1 530.3L547.2 534.6ZM546.9 531.9L550.7 527.7L553.1 533.5L549.4 537.7ZM548.7 537.5L552.7 533L555.3 539.3L551.3 543.8ZM550.8 543.5L555.1 538.6L557.3 544L553 548.9ZM553 547.9L557.2 543.1L560.5 550.9L556.2 555.7ZM536.3 495L540.7 490.1L544.3 498.9L540 503.8ZM539 501L543.6 495.8L546.6 502.9L542 508.2ZM541.7 506.6L546.1 501.6L548.6 507.7L544.2 512.7ZM545.1 518L549.7 512.8L552 518.3L547.4 523.4ZM548 523.3L551.8 518.9L554.4 525.1L550.5 529.4ZM551.7 528.5L553.9 526L555.3 529.4L553.1 531.9ZM551.6 534.1L557.3 527.6L559.9 533.9L554.2 540.3ZM554.8 538.8L559 534L561.6 540.2L557.4 545ZM555.9 545.2L562 538.2L564.7 544.6L558.5 551.6ZM559 549.5L563.2 544.8L565.7 550.8L561.5 555.5ZM544.7 503.2L548.9 498.4L551.5 504.7L547.3 509.4ZM548.9 513L553.5 507.8L556.1 514L551.5 519.3ZM551.2 519.1L555.6 514.1L558.1 520L553.6 525ZM554.3 523.9L558.3 519.4L560.8 525.5L556.8 530ZM555.6 530.1L561.2 523.8L563.7 529.8L558.1 536.2ZM557.6 534.9L562.1 529.8L564.5 535.4L560 540.5ZM560.5 539.9L565.2 534.4L567.9 540.7L563.1 546.1ZM563.1 544.8L567.4 540L570 546.2L565.7 551.1ZM565 550.7L569.1 546.1L571.8 552.4L567.6 557ZM563.4 535.9L568.1 530.5L570.6 536.6L565.9 541.9ZM566.4 540.9L570.8 535.9L573.4 542.3L569 547.3ZM568.8 546.6L572.9 542.1L575.2 547.7L571.2 552.2ZM570.5 551.9L575.2 546.6L577.6 552.3L572.9 557.6ZM574.1 541.7L576.5 538.9L578 542.5L575.5 545.3ZM575.2 547.9L579.4 543.2L581.5 548.2L577.3 553ZM577 552.4L581.6 547.2L583.8 552.7L579.3 557.8ZM580.1 548.2L584.5 543.2L586.7 548.5L582.3 553.5ZM582.9 554L586.8 549.6L589.2 555.4L585.3 559.8Z" fill="#000"/>
<path clip-path="url(#h2)" d="M496.3 567.1L497.5 565.3M553.8 525.7L555.9 529.5M490.3 574.2L491.6 577M501.7 529L504.6 529.7M486.4 545.3L486.9 547M531.6 517.3L534.1 514.4M451.1 555.2L452.8 552.2M520.4 511.9L524 510.6M523.2 492.3L526.9 490.5M448.9 572.7L450.8 570.1M470.8 555.9L474.7 556.8M452.1 571.3L454.5 568.9M529.8 517.4L531.9 514M484.7 556.2L487.2 556.9M450.9 555.8L452.9 559.6M472.4 558.7L473.8 556.5M524 523.8L525.3 525.9M451.1 549.2L453.1 547.3M460.1 597.4L461.9 600.1M544.2 547L547.1 543.9M518 533.6L519.5 533.8M530.2 527.9L533.1 528.2M532.1 501.2L534 500.9M542.8 535L543.6 536.8M489.8 583.4L491.9 586.1M515.7 533.7L518.1 530.2M448.9 575.2L452.3 573.5M512.2 541.1L513.9 539M556.2 541L558.2 538.8M494.4 553L496.6 556.3M480.6 558.3L484.6 559M535.1 504.4L537.6 501.6M510.6 528.7L512.2 526.6M539.3 509.1L540.1 511.2M488.8 569.6L491.5 566.5M448.1 568.3L449.8 571M536.7 506.7L538.8 507.4M488.5 549.5L492.7 549.9M445.6 566.9L448 563.1M549.5 522.6L550.6 525.5M524 500.9L525.7 498.8M462.6 598.8L464.8 602.1M521 514L522.1 515.8M522.3 510.8L525.1 509.6M469.4 545.8L471.3 545.3M504.4 491.2L506.6 487.8M446.8 563.2L450.8 563.5M464.5 591.4L465.5 590M485.8 550.1L488.9 550.9M484.6 583.6L488.2 582.2M450.6 574.8L451.4 576.3M507.3 543.9L510.8 544.8M572.2 544.2L573.4 542.6M535.6 546.1L536.3 547.6M467.7 589L469.9 593M518.5 527.9L520.1 528.2M521.7 521.1L523.1 524.9M500.4 547.5L501.9 547.1M515.9 492.2L517 495.8M506.5 493.3L507.8 495.2M452.6 588.2L454.9 584.8M473.6 558.7L474.8 561.2M509.1 559.6L512.4 558.2M460.6 559.9L461.9 563.5M510.8 506.5L512.3 509.3M526.5 504.9L529.8 503.8M479.2 592.8L481.7 593.4M451.5 596.4L454.2 593M499.7 556.6L501 554.9M486.7 573.7L487.2 575.2M525.3 534.5L527.9 535.2M501.1 552.6L502.6 552.1M481.3 551.5L485 552.2M546.7 547.1L547.5 545.8M514.7 533L515.8 536.1M504.2 490.2L506.3 487.1M452.9 556.8L455.6 556.1M456.2 606.9L457.8 604M461.9 586.3L462.8 587.8M468.5 601.3L469.5 602.8M488.8 587.5L489.7 585.8M522.9 517.2L524.9 520.2M451.9 575.6L453.9 573.1M510.2 527.3L512.5 524.4M542.3 527.2L544.2 527.5M508.8 553.1L509.4 555.4M464.3 545L467.6 543.5M536.8 519.8L539 523.5M510.2 559.4L511.7 556.9M484.3 572.4L486 575.6M503.6 549.8L504.4 551.1M501.7 544.3L502.7 546.8M485.5 547.8L487.5 544.7M517.1 498.6L521.1 499.6M548.8 518.1L551 517.4M513.4 518.3L514.2 520.1M510.3 544.5L512 541.5M543.2 536.7L546 536.9M549.8 519.5L552.2 517.5M466.1 588.5L467.8 589M552.2 531.9L555.6 528.9M471 554.9L471.8 553.5M539.5 547.3L541.5 544.3M473.2 553.4L474.1 551.8M482.7 592L484.2 594.8M453.1 576.9L455.2 577.3M438.1 560L438.9 561.7M499.9 550L501.4 548M503 489.5L504.4 487.7M458.8 592.3L459.4 593.8M560.3 535.1L561.8 532.3M559.9 543.6L560.9 545.4M530.4 513.3L531.9 517M517.3 513.5L518.3 515.6M534.6 539.2L536.4 542.4M522.9 515.1L523.4 516.6M536.8 498.3L538.4 497.4M498.2 562.6L499.8 560.3M481.6 562.3L483.4 560.3M547.9 539.2L549.3 537.7M440.6 559.5L442.1 562.4M507.8 552.9L509.8 549.9M538.7 537.7L540.3 535.1M529.3 553.8L531.9 550.3M442.3 568.2L443.8 572.1M572.9 545L574.2 547.3M523 525.3L525.6 522.4M519.8 528.7L521.9 526.2M501.3 527.2L503.9 523.7M500.4 535.2L501.9 538.4M462.7 563.8L464.3 567.7M505.5 552.6L506.6 556.3M489.9 561L490.5 562.7M535.9 529.6L540 529.9M514.1 539.3L516.4 537.1M484.4 577.6L487 576.5M496.8 537.2L500 537.3M513.4 561.4L515 563.9M525.5 498.4L527.1 497.6M496.6 567.3L498.3 564.8M489.1 578.1L490.3 580M495.6 546.4L497.7 545.8M555.5 543.3L557.1 543.3M466.2 573.4L468.5 571.1M525.7 526.4L527.7 523.7M498.7 533.3L501.8 531.9M517.6 493.1L518.7 495.8M480 555.8L481.4 553.9M461 542.9L462 544.5M510 488.1L511.1 486.8" fill="none" stroke="#fff" stroke-width="0.8" stroke-linecap="round"/>
</g>
<clipPath id="h3"><path d="M697.2 537.5L699.4 534.2L701.9 537.9L704.1 535.7L706.4 534.2L708.9 536.8L711.2 536.7L714.2 534.5L715.5 537.7L718 537.1L720.5 536.4L722.4 537.6L723.8 540.6L725.1 542.4L727.3 543.7L728.3 545.6L726.9 548.4L728.9 549.8L732.6 546.2L733.7 549.9L735.7 551.3L737.8 552.3L739.3 554.3L743.6 553.4L743.9 556.8L748.1 555.9L746.7 561.1L748.8 562.5L751.8 563.2L750.6 566.7L753.5 567.5L753.3 570.3L755 571.9L756.4 574.1L759.5 574.1L761.8 575.2L762 578.8L764.4 579.7L765.5 581.7L767.8 582.5L770.1 583.3L770.6 585.9L770.6 587.9L772.7 589.8L771 592L769.3 595.3L766.2 593.4L750.6 595.8L735 601.2L719.4 610.6L705.3 623.1L694.4 637.2L687.3 651.2L684.7 665.3L680.1 667.3L681.6 662.5L679.2 661.9L676.9 662.5L675.5 660.4L673.7 658.7L671 657.6L670.6 654.7L665.1 655.9L666 652L665.2 649.4L664.4 646.9L661 646.5L661.3 643.1L659.8 641.2L657.2 640.2L656.6 637.5L655.2 635.8L652.6 635.3L647.7 637.1L650.3 631.4L648.8 629.7L646.3 628.2L645.3 625.9L642.4 624.7L643.8 621L642.5 618.8L641.9 616.3L640.9 613.8L642.1 610.9L640.7 608.5L639.4 606.2L640.2 603.9L640.9 601.6L642.8 598.3L645.1 597.8L647.6 598.5L650.3 600L650.3 596.9L653 596.5L654.8 595.2L656.6 593.8L658.2 592.3L659.7 590.6L661.9 589.7L662.8 587.5L665.4 586.8L667.4 587.9L670 587.4L671.5 590.2L673.8 590.6L675.5 589.3L676.8 587.2L679.1 587.3L681.2 586.7L683.1 585.9L682.6 581.3L687 582.8L687.1 578.9L690.9 579.7L690.7 577.3L690.8 575L693.7 574L693.4 571.6L695.6 570.3L696 568.2L698 566.7L696.3 563.8L698.8 562.5L696.5 562.3L694.3 561.9L692.5 560.2L693.7 556.9L696.3 557.1L698.1 555.1L700.3 554.3L703.4 555.5L703.9 553.3L703.2 550.3L704.9 548.8L708.1 548.4L705.2 551.6L703.2 549.3L701.3 546.3L698.8 546.9L698.4 544.1L700.7 542.6L701.9 540.6L698.7 542L697.3 540.8Z"/></clipPath>
<filter id="wh3" filterUnits="userSpaceOnUse" x="631.4" y="528.7" width="147.6" height="144.6"><feTurbulence type="fractalNoise" baseFrequency="0.14" numOctaves="2" seed="37"/><feDisplacementMap in="SourceGraphic" scale="3.2" xChannelSelector="R" yChannelSelector="G"/></filter>
<g filter="url(#wh3)">
<path clip-path="url(#h3)" d="M635.6 613.4L638.8 609.8L641.3 614.4L638.1 618ZM638.2 618.4L641.7 614.3L644.3 619L640.7 623ZM640.1 623.8L644 619.4L646.2 623.5L642.3 627.9ZM642.5 629.1L647.4 623.5L650.1 628.5L645.2 634.2ZM646.1 633.2L649.1 629.8L652.1 635.3L649.1 638.7ZM635.7 603.3L639.7 598.7L642.9 604.6L638.9 609.2ZM637.4 607.8L641.1 603.6L645.1 611.2L641.5 615.3ZM641.6 613.8L645.4 609.5L648.2 614.6L644.3 619ZM644.2 619.7L648.3 615L651 620L646.8 624.6ZM646.7 624.3L650.5 619.9L653 624.5L649.1 628.9ZM649.2 630L654.3 624.3L656.8 629.1L651.8 634.8ZM653.3 634.8L656.4 631.3L659.2 636.5L656.1 640.1ZM654.8 640.4L658.4 636.4L661.2 641.8L657.7 645.7ZM659.6 645.1L662 642.3L663.6 645.2L661.1 648ZM660.3 650.6L664.2 646.2L667 651.4L663.1 655.8ZM664.5 656.2L668 652.3L670.5 657.1L667 661ZM641.6 599.1L643.4 597L644.8 599.8L643 601.8ZM642 603.8L645.6 599.7L648.4 605L644.9 609.1ZM644.8 609.4L648.5 605.3L651 609.8L647.3 614ZM648 614.9L651.8 610.6L654.4 615.5L650.6 619.8ZM650.3 619.8L653.9 615.7L656.6 620.7L653 624.9ZM653.4 624.9L657 620.8L659.6 625.8L656 629.8ZM656.7 630.5L660.4 626.3L663.2 631.6L659.5 635.8ZM658.8 635.9L662.7 631.4L665.5 636.5L661.6 640.9ZM663.4 641.6L665.5 639.2L667.1 642.1L664.9 644.5ZM664.2 646.8L668.1 642.5L670.8 647.5L667 651.9ZM667.3 651.9L671 647.8L673.6 652.7L670 656.8ZM672.3 657L674.7 654.3L676.1 657L673.7 659.7ZM673.1 661.7L677 657.3L679.6 662.2L675.8 666.6ZM646 600.4L649.3 596.7L651.9 601.5L648.6 605.3ZM649.1 606.4L652.5 602.5L654.6 606.4L651.2 610.2ZM652.9 610.8L656.1 607.1L658.3 611.2L655 614.8ZM654.6 615.8L658 612L660.3 616.3L657 620.1ZM658.4 621.6L660.4 619.4L662 622.2L660 624.5ZM660.8 626.3L664.2 622.4L666.9 627.5L663.5 631.3ZM663.2 631.8L666.9 627.6L669.8 633.1L666.1 637.3ZM665.4 635.6L669.5 630.9L673.6 638.4L669.4 643.1ZM667.3 642.5L672.7 636.4L675.5 641.6L670.1 647.7ZM671.3 647.1L674.9 643L677.5 647.9L673.9 652ZM675.2 653L678.5 649.3L680.7 653.2L677.3 657ZM677.5 657.4L681.1 653.3L683.7 658L680.1 662.1ZM678.4 663.3L683.6 657.4L686.7 663.1L681.5 668.9ZM683 667.2L686.4 663.4L689.4 669L686 672.8ZM649.5 595L652.9 591.1L655.9 596.6L652.5 600.5ZM652.1 602.2L657.7 595.8L660.2 600.5L654.6 606.9ZM655.4 606.4L659.2 602.2L661.4 606.3L657.6 610.6ZM658.3 611.5L661.6 607.8L664.2 612.5L660.8 616.3ZM661.6 616.4L664.7 612.9L667 617.4L664 620.8ZM664 621.3L666.9 618.1L669.4 622.7L666.5 626ZM666.9 626.8L670 623.2L672.5 627.8L669.4 631.3ZM669.5 632.2L673.2 627.9L676.1 633.2L672.3 637.5ZM672 637.1L675.8 632.8L678.5 637.8L674.7 642.1ZM676.1 642.7L679.5 638.8L681.8 643L678.4 647ZM678.7 648.7L682.4 644.5L684.9 649.2L681.2 653.4ZM681.3 652.8L684.9 648.9L687.6 654L684.1 658ZM684.1 657.8L687.6 653.9L690.4 659.1L686.9 663ZM654.5 591.8L657.9 587.9L660.5 592.6L657.1 596.5ZM656.6 596.9L660.4 592.6L663.1 597.7L659.4 602ZM659.4 602.5L663.7 597.7L666 602.1L661.8 606.9ZM664 607.4L666.1 605L667.9 608.3L665.8 610.7ZM665 612.3L668.3 608.5L671.2 613.9L667.9 617.7ZM667.7 617.5L671.4 613.3L674.2 618.5L670.5 622.7ZM670.4 622.4L674.1 618.2L677.9 625.3L674.2 629.5ZM673.3 628.3L676.7 624.5L679.5 629.8L676.2 633.6ZM676.2 634.1L680.9 628.7L683.3 633L678.5 638.4ZM679.2 638.2L682.4 634.5L684.8 639L681.6 642.7ZM682 643.7L685.4 639.8L687.7 644.2L684.3 648ZM684.6 649.7L689.8 643.7L692.1 648L686.8 653.9ZM686.2 654.1L691.3 648.4L694.3 653.9L689.2 659.6ZM658.1 587.1L661.7 583L664.6 588.4L661 592.5ZM659.6 591.2L663.4 586.9L667.2 594.1L663.4 598.3ZM663.8 597.6L667.4 593.6L669.7 597.9L666.1 601.9ZM666.4 603.6L669.9 599.7L672.4 604.3L668.9 608.2ZM668.7 607.3L672 603.6L674.8 608.7L671.4 612.5ZM671.6 612.9L674.9 609.1L677.9 614.5L674.5 618.3ZM674.1 618.5L678 614.2L680.8 619.5L677 623.9ZM677.4 624.2L681.4 619.6L684.4 625.2L680.4 629.7ZM685.6 639.8L689.1 635.9L691.2 639.8L687.7 643.7ZM688.6 644.1L691.8 640.4L694.2 645L691 648.6ZM664 589.2L668 584.8L670.3 589.1L666.4 593.6ZM666.1 593L669.9 588.7L673.8 596L670 600.3ZM673.1 603.1L675.9 599.9L678.4 604.6L675.6 607.8ZM674.8 608.5L678 604.9L681.5 611.5L678.3 615.1ZM678.3 613.8L681.7 609.9L684.1 614.5L680.7 618.3ZM681.8 619.3L684.1 616.8L685.7 619.8L683.5 622.3ZM683.3 624.6L687.1 620.2L689.8 625.3L686 629.6ZM686.7 629.7L690.8 625.1L693.5 630.2L689.4 634.8ZM688.9 635.3L693.1 630.5L695.8 635.6L691.6 640.4ZM691.4 639.3L695 635.2L699.2 642.9L695.5 647ZM671.1 589.9L675.1 585.4L677.5 590L673.5 594.5ZM673.7 594.7L677 591L679.4 595.4L676 599.1ZM676.4 598.4L679.4 595L683.3 602.2L680.3 605.6ZM680 605.2L683.2 601.5L685.8 606.3L682.5 609.9ZM681.8 610.2L685.5 605.9L688.3 611L684.5 615.3ZM684.3 614.5L687.9 610.4L691.8 617.7L688.2 621.7ZM687.9 619.7L691.1 616.1L693.8 621.2L690.7 624.8ZM689.6 624.9L693.3 620.7L696.8 627.3L693.2 631.5ZM693.4 630.8L696.9 626.8L699 630.7L695.4 634.6ZM695.3 637.1L700.3 631.5L703 636.4L698 642.1ZM675.2 585.2L679 581L681.5 585.7L677.8 590ZM679 590.5L681 588.2L682.4 590.8L680.4 593.1ZM680 594.5L683.3 590.8L686 595.9L682.7 599.6ZM684.8 600.2L686.8 598L688.3 600.9L686.4 603.1ZM685.6 605.5L689.1 601.6L691.9 606.8L688.4 610.7ZM689.1 610.8L692.7 606.7L695.7 612.2L692 616.3ZM691.1 617L696.4 611L699.1 616.1L693.8 622.2ZM696.3 625.2L700.2 620.8L703.9 627.7L700 632.1ZM700.4 631.6L703.5 628.1L705.9 632.5L702.7 636.1ZM683.1 586L685.3 583.5L686.9 586.5L684.7 589ZM683.8 591.5L687.2 587.7L689.7 592.4L686.4 596.2ZM687.3 595.5L690.8 591.4L693.7 596.7L690.1 600.8ZM690.8 600.8L692.9 598.4L694.6 601.6L692.5 604ZM692.7 606.1L696.4 601.9L699.4 607.5L695.7 611.7ZM695.2 611.3L698.5 607.6L701.2 612.5L697.9 616.3ZM698.6 616.8L702.3 612.5L704.6 616.8L700.9 621.1ZM699.8 621.9L703.9 617.2L707.5 623.9L703.4 628.6ZM703.2 626.8L706.7 622.8L709.6 628.1L706 632.1ZM685.2 581.5L688.4 577.8L690.8 582.2L687.6 586ZM690 587.2L691.8 585.1L693.2 587.6L691.4 589.7ZM690.6 592.2L694.3 588L697 593L693.3 597.3ZM692.6 597L696.6 592.4L699.6 598L695.6 602.5ZM696.2 602.1L700 597.9L703.2 603.9L699.5 608.1ZM698.9 608L702.8 603.7L705.6 608.9L701.8 613.3ZM701.5 612.7L705 608.7L707.6 613.7L704.1 617.7ZM704.5 618.4L708.2 614.3L710.4 618.3L706.7 622.5ZM688.9 577.4L691.9 574L694.1 578.2L691.2 581.6ZM691.8 583.2L694.9 579.6L697 583.4L693.8 587ZM695 587.5L697.8 584.2L700.3 588.8L697.4 592ZM699 592.7L701.1 590.4L702.5 593.1L700.5 595.4ZM700.4 597.9L704 593.8L706.9 599.1L703.3 603.2ZM702 602.3L705.4 598.5L709.2 605.7L705.9 609.4ZM705.3 609.1L709.2 604.6L711.7 609.2L707.7 613.6ZM708 613.5L711.8 609.2L714.3 613.9L710.6 618.2ZM711.6 618.5L715.1 614.6L717.7 619.5L714.3 623.4ZM687 563.4L691 558.9L693.5 563.5L689.5 568ZM689.6 568.5L693.7 563.8L696.3 568.5L692.1 573.2ZM691.4 571.8L695.3 567.4L699.3 574.9L695.4 579.3ZM696.1 578.2L699.4 574.6L702.1 579.7L698.9 583.3ZM698.3 583L701.6 579.3L704.2 584.1L701 587.8ZM701.2 588.7L704.5 585L707 589.7L703.8 593.4ZM704.2 593.4L707.4 589.8L710.2 595.1L707 598.7ZM706.4 598.2L709.8 594.4L712.6 599.5L709.2 603.3ZM710.2 604.3L713.5 600.5L715.8 604.9L712.5 608.7ZM714.2 613.3L717.8 609.2L721.3 615.8L717.7 619.9ZM690.1 556.7L693.7 552.6L697.5 559.8L693.9 563.8ZM693.7 563.5L697.8 558.8L700.2 563.3L696.1 567.9ZM696.9 569L700.1 565.3L702.7 570.2L699.5 573.9ZM699.7 573.4L702.8 570L705.3 574.7L702.2 578.2ZM702.6 579.3L706.1 575.2L708.8 580.2L705.3 584.2ZM703.4 585.6L708.8 579.6L711.5 584.7L706.2 590.8ZM707.6 588.7L711.7 584L715 590.1L710.9 594.7ZM710.2 594.6L713.7 590.6L716.5 595.8L713 599.8ZM712.7 599.2L716.4 595L720.3 602.1L716.6 606.3ZM715.7 604.8L719.5 600.5L721.8 604.8L718 609.1ZM718.8 609.9L722 606.2L724.4 610.6L721.2 614.3ZM691.7 547.1L695 543.3L699.1 550.8L695.7 554.6ZM694.4 553.7L698.4 549.1L701 553.8L696.9 558.4ZM697.9 558.8L701.6 554.7L704.4 559.9L700.7 564ZM700.5 564.8L704 560.8L706.4 565.2L702.8 569.2ZM705 569.7L707 567.5L708.3 570L706.3 572.2ZM705.5 576.4L710.6 570.6L712.9 575L707.8 580.8ZM708.5 579.5L711.7 575.9L714.3 580.6L711.1 584.2ZM711.8 585.2L715.1 581.5L718 586.9L714.7 590.7ZM714.3 590.1L717.8 586.1L720.7 591.5L717.2 595.5ZM717.1 595.8L721 591.4L723.7 596.4L719.8 600.8ZM719.8 600.6L724.1 595.7L726.6 600.4L722.3 605.3ZM723 605.6L726.8 601.3L729.8 606.8L725.9 611.2ZM693.3 539.3L696.6 535.5L699.4 540.6L696 544.3ZM695.1 544.5L698.6 540.6L701.3 545.5L697.8 549.5ZM700.2 550L702.2 547.7L703.5 550.2L701.5 552.5ZM700.8 554.3L704.7 550L708.5 557.1L704.6 561.4ZM703.9 560L707.3 556.1L709.9 561L706.5 564.8ZM707 565L710.3 561.2L712.6 565.4L709.2 569.2ZM708.4 572L713.7 565.9L716.1 570.2L710.7 576.3ZM712.7 575.4L716.3 571.4L718.9 576.3L715.4 580.3ZM714.6 581.3L719.8 575.5L722.6 580.7L717.5 586.5ZM717.9 585.8L721.2 582.1L723.7 586.8L720.4 590.5ZM721.3 591.6L724.9 587.5L727.3 592.1L723.7 596.2ZM723.9 595.3L727.4 591.3L730.8 597.6L727.3 601.6ZM726.3 601.9L730 597.7L732.3 602.1L728.6 606.3ZM696.6 534.9L700.4 530.5L703.5 536.2L699.7 540.6ZM698.1 538.4L701.8 534.3L706 542.1L702.3 546.2ZM702.3 545.1L706.4 540.5L709 545.2L704.8 549.9ZM705.3 550.7L709 546.5L711.8 551.7L708.1 555.8ZM707.5 555.8L711.1 551.8L713.5 556.2L709.9 560.2ZM711.1 561.3L714.4 557.6L716.8 562L713.5 565.8ZM713.5 566.2L716.9 562.4L719.1 566.5L715.8 570.3ZM716.3 571.9L719.9 567.8L722.5 572.7L718.9 576.8ZM719.1 576.5L722.5 572.6L725.3 577.7L721.8 581.6ZM721.8 581.7L725.2 577.9L728 583.1L724.6 586.9ZM725 586.6L729 582.1L731.5 586.9L727.5 591.4ZM730.2 597L733.3 593.5L735.6 597.7L732.5 601.2ZM734 602.6L736.7 599.5L738.9 603.5L736.1 606.6ZM703.3 535.6L706.8 531.7L709.5 536.8L706.1 540.7ZM706.8 541.1L709.3 538.3L710.8 541.1L708.3 543.9ZM708.6 546.6L713 541.7L715.6 546.6L711.2 551.6ZM712.1 551.5L715.8 547.3L718.7 552.6L714.9 556.9ZM714.8 556.7L718.3 552.7L721.1 557.8L717.6 561.8ZM717.7 561.7L721.5 557.3L724.2 562.3L720.4 566.7ZM719.7 566.7L723.3 562.7L725.8 567.2L722.2 571.3ZM722.4 571.4L725.8 567.6L728.7 573.1L725.3 576.9ZM725.3 576.6L728.8 572.6L731.7 578L728.2 582ZM728.1 582.7L731.8 578.5L734.2 582.9L730.5 587.2ZM731.6 587.9L735.8 583.2L738.2 587.7L734 592.5ZM734.5 593.1L738.1 589L740.9 594.2L737.3 598.3ZM737 597.6L740.4 593.8L743 598.6L739.6 602.4ZM709.8 536.9L713 533.3L715.3 537.4L712 541.1ZM711.5 541.2L715 537.2L719 544.5L715.4 548.5ZM715.2 547L718.5 543.2L721.1 548L717.8 551.7ZM717.5 552.9L722.7 546.9L725.1 551.4L719.8 557.4ZM720.8 557.1L724.4 553.1L727 558L723.4 562ZM722.3 561L726.3 556.5L730.6 564.4L726.6 568.9ZM726.7 566.8L730.2 562.8L733.4 568.8L729.9 572.8ZM729.2 573.3L733.1 568.9L736 574.3L732.1 578.7ZM731.5 577.8L735.4 573.4L738.9 580.1L735.1 584.4ZM735.2 584L739.3 579.3L741.6 583.7L737.5 588.3ZM737.8 588.2L741.4 584.1L744.2 589.2L740.5 593.3ZM740.7 595.2L745.4 589.8L747.9 594.4L743.2 599.8ZM743.1 599.3L746.5 595.4L749.1 600.2L745.7 604.1ZM717.2 537.7L720.6 533.8L723.1 538.4L719.6 542.3ZM719.7 543L723.2 539L725.5 543.1L722 547.1ZM723.4 548.5L725.1 546.5L726.4 548.8L724.6 550.8ZM725.6 553.2L728.5 549.8L730.5 553.5L727.5 556.9ZM727.6 558.6L730.7 555.1L733.4 560L730.3 563.6ZM729.4 564.7L734.7 558.7L737.5 563.8L732.2 569.8ZM732.7 568.6L736.1 564.7L738.9 569.9L735.5 573.8ZM735.8 574.1L739.9 569.5L742.3 573.9L738.2 578.5ZM738.4 579.6L742.5 574.9L745.1 579.6L740.9 584.3ZM741.4 584.6L745.3 580.2L748 585L744.1 589.5ZM745.2 589.3L748.4 585.7L750.8 590.2L747.6 593.8ZM747.1 594.5L750.7 590.5L753.2 595.2L749.6 599.2ZM723 538L726.7 533.9L729.5 539L725.8 543.1ZM728.5 548.5L732 544.6L734.6 549.4L731.1 553.3ZM731.3 553.8L734.4 550.3L737 555.1L733.9 558.6ZM734.2 558.5L737.2 555.1L739.9 560.1L736.9 563.5ZM736.2 562.6L739.5 558.9L743.3 566L740.1 569.8ZM739 570.6L744.2 564.8L746.6 569.1L741.4 575ZM742.2 574.7L745.8 570.6L748.3 575.2L744.7 579.3ZM745.8 581L749.4 576.9L751.8 581.2L748.2 585.3ZM748.3 585.3L751.3 581.9L753.7 586.4L750.7 589.8ZM751.3 590.3L754.8 586.3L757.4 591.3L753.9 595.3ZM755.1 595.4L757.1 593.1L758.7 596L756.7 598.3ZM737 549.5L739.2 547L740.9 550.3L738.7 552.7ZM738.5 554.9L741.9 551L744.9 556.5L741.5 560.5ZM741.1 560.4L744.5 556.5L747.3 561.5L743.8 565.4ZM744 565.7L748.1 561.1L750.7 565.8L746.5 570.4ZM746.8 570.8L750.4 566.7L753 571.6L749.4 575.6ZM750 576.2L753.4 572.4L755.6 576.5L752.2 580.3ZM752.6 581.5L755.6 578.1L757.8 582L754.7 585.5ZM755.1 586.5L758.4 582.7L760.8 587.2L757.5 591ZM759.1 591.4L761.1 589.2L762.6 591.9L760.6 594.2ZM760.2 596.7L763.6 592.8L766.4 598L763 601.9ZM746.9 561L751 556.3L753.9 561.7L749.8 566.4ZM749.5 566.1L754 561.1L756.8 566.4L752.4 571.5ZM753.5 571.2L757.1 567.2L759.8 572.4L756.3 576.4ZM755.6 576.3L758.8 572.7L761.4 577.7L758.3 581.3ZM758.7 582.6L763.6 577.1L766 581.6L761.1 587.1ZM760.9 586.4L764.3 582.6L767.1 587.7L763.7 591.5ZM765 591.9L767.2 589.5L768.9 592.6L766.6 595.1ZM762.2 577.3L766.1 572.9L768.8 578L764.9 582.3ZM764.3 583.7L769.8 577.4L773 583.3L767.4 589.6ZM768 587.4L771.7 583.2L775 589.3L771.3 593.5ZM769.9 591.6L773.8 587.2L777.7 594.5L773.8 598.9Z" fill="#000"/>
<path clip-path="url(#h3)" d="M645.3 607.4L647.3 604.8M677.6 646.9L679.3 646.5M703.2 610L707.4 611.2M657.4 606.5L659.6 606.9M743.2 590.5L745.4 593.5M732.7 568.6L736.5 569.3M698.2 565.3L699.9 562.8M750.7 572.5L751.6 573.8M717.1 545.7L718.9 544.8M697.7 576.4L699.3 578.6M670.6 615L674.6 613.1M717.8 610.4L719.9 610.7M654.8 614.4L656.9 611.5M668.8 642.1L672.4 640.3M762 580.4L763.9 577.9M664.9 611.2L666.4 609.7M753.4 577.4L757.3 578.4M680.5 611.8L681.8 609.6M754.9 579.6L757.6 578.5M699.2 559.6L700.9 557.1M667.5 638.9L668.8 637.3M706.9 600.3L710.3 599.3M662.1 620.1L664 617.5M718.2 571.7L719.3 570.2M695 576.4L696.9 580.3M680.8 636.3L681.8 635.2M696 611.4L698.1 609.2M708.6 580.1L710 583.3M694.9 632.2L699 630.6M668.8 597.8L671 601.4M736.1 567.9L740.1 569.1M692.8 601.9L696.7 603M724.4 567.2L725.3 565.2M731.5 583.7L733.8 580.6M683.3 615.3L685.6 612.4M705.2 553.2L707.6 549.5M661.5 596.2L663.7 599.2M731.9 583.4L734.1 586.7M693.1 608.2L695.3 608.4M750.4 591.4L752 588.7" fill="none" stroke="#fff" stroke-width="0.8" stroke-linecap="round"/>
</g>
<clipPath id="h4"><path d="M879 578L881.3 578.8L882.7 581.1L885.8 580.8L886.9 583.4L889.1 584.2L892.3 582.9L894.8 583.2L897.6 582.5L897.8 588.1L900.3 589.2L900.3 591.5L901.2 593.5L904.6 594.1L902.5 597.5L904.5 598.5L905.2 601.3L908.6 600.5L910.6 601.5L912.4 602.8L913.4 605.3L915 606.8L917.1 607.8L920.2 607.9L921.5 609.7L921.2 613.1L923.4 614.5L925 616.5L925.7 619.2L927.5 620.9L929.5 623.1L929.4 625.5L928 628L925.8 628.1L923.4 627.1L921.4 628.5L919.4 629.7L903.8 632.8L888.1 639L872.5 648.4L860 659.4L850.6 671.9L845.6 684.4L845.9 697.5L842.6 696.7L840.6 695L841.6 691.2L839.7 688.9L836.9 689.7L833 689L834.6 685.2L831.9 683.9L829.4 682.4L830.6 678.8L828.9 677.3L827.1 676L823.6 676.4L824.2 672.6L820.6 673.1L821.2 669.4L818.2 669.2L816.3 668.1L816.5 664.7L813 665.1L813.2 661.8L811.9 660L811.1 657.8L808.4 656.9L808.4 654.2L804.9 653.8L805.6 650.6L804.9 648.6L801.4 648L803.6 644.5L801.9 643L800.9 641.2L799.3 639.5L796.8 637.9L797.9 635.7L799.4 633.4L800.7 631.4L801.1 629L802.4 626.9L803.7 624.9L804 622.5L806.8 623.9L810.9 624.7L806.5 629.2L807.1 631.5L808.8 633.4L808.6 627.2L813.7 631.5L815.1 628.6L818.1 628.8L818.5 625L820.1 623.4L823.2 624.8L825 623.8L827.5 624L829.4 621.1L831.9 621.3L834.6 623.4L836.9 622.5L838.7 621.4L839.9 619.2L842 618.7L843.2 616.4L846.2 617.8L847.4 615.5L849.8 615.1L851 612.8L851.4 609.4L855.6 611.6L854.6 607.5L858.3 608L860.2 606.8L862.5 606L863.4 603.8L862 601.6L861.9 599L863.6 596.7L865.6 594.9L868.4 594.5L871.2 594.4L869.3 592.7L870 589.8L868.1 588.1L870.2 587.7L870.8 585.2L872 583.4L874.4 583.4L874.1 580.1L875.1 577.8Z"/></clipPath>
<filter id="wh4" filterUnits="userSpaceOnUse" x="791.4" y="570" width="144.6" height="135.5"><feTurbulence type="fractalNoise" baseFrequency="0.14" numOctaves="2" seed="51"/><feDisplacementMap in="SourceGraphic" scale="3.2" xChannelSelector="R" yChannelSelector="G"/></filter>
<g filter="url(#wh4)">
<path clip-path="url(#h4)" d="M793.6 635.1L796.7 631.8L799.5 636.9L796.4 640.2ZM796.1 640.4L799.2 637L802 641.9L798.8 645.3ZM798.4 645.9L802 642L804.5 646.5L800.9 650.4ZM801.1 651.1L804.8 647.1L807.3 651.7L803.6 655.7ZM803.4 655.3L807 651.4L809.6 656L806 659.9ZM806.6 660.1L809.8 656.7L811.9 660.6L808.8 664ZM809.8 665.9L813 662.4L815.4 666.7L812.2 670.1ZM798.4 631.5L800.2 629.6L801.7 632.5L800 634.4ZM799.9 636.6L803.3 633L805.7 637.4L802.4 641.1ZM802.1 641.7L806 637.5L808.5 642.2L804.7 646.4ZM803.8 646.8L809.2 641L812 646L806.6 651.9ZM807.4 651.2L811.2 647L814 652L810.1 656.2ZM810.8 655.7L814.3 652L817 656.9L813.5 660.7ZM813 661.1L815.9 657.9L818.3 662.3L815.4 665.5ZM816.4 665.6L819.4 662.3L821.9 666.7L818.8 670ZM819.8 670.6L821.7 668.5L823.3 671.3L821.4 673.4ZM821 676.4L825.8 671.2L828.4 676L823.6 681.1ZM799.5 623.5L801.3 621.5L802.7 624.1L800.9 626ZM800.6 628.3L803.5 625.1L805.9 629.4L802.9 632.6ZM802.8 631.2L805.6 628.2L809.3 634.9L806.5 638ZM805.9 638.2L809.3 634.6L811.7 639L808.3 642.6ZM810.3 642.3L812.1 640.3L813.5 642.7L811.6 644.7ZM811 647.7L814.7 643.7L817.3 648.5L813.7 652.5ZM813.8 652.3L817.3 648.5L819.8 653.1L816.3 656.9ZM817.1 657.4L820.6 653.6L822.7 657.5L819.2 661.3ZM819 662.2L822.7 658.2L825 662.3L821.2 666.3ZM822.1 666.3L825.4 662.8L828.1 667.8L824.8 671.3ZM825.1 672.1L828.5 668.5L831.3 673.7L828 677.3ZM829.1 677.2L831.3 674.8L832.7 677.4L830.5 679.8ZM830.5 682.2L834.1 678.4L836.2 682.3L832.6 686.1ZM833.2 687.3L836.6 683.6L838.8 687.5L835.4 691.2ZM836.2 691.3L839.4 687.9L841.7 692.1L838.5 695.5ZM838.3 696.6L841.1 693.5L843.6 698L840.8 701.1ZM801.5 618.9L804.7 615.5L807 619.7L803.8 623.2ZM804.6 623.1L807.8 619.7L810.7 624.8L807.5 628.3ZM806.8 628L809.9 624.6L813.7 631.3L810.5 634.8ZM809.5 633.7L812.6 630.3L815.1 634.9L812 638.2ZM815.4 644.2L818.5 640.8L820.7 644.8L817.6 648.2ZM817.5 647.7L820.7 644.3L824.1 650.5L820.9 653.9ZM820.3 653.6L823.1 650.6L825.3 654.5L822.5 657.6ZM823.6 657.8L826.6 654.6L828.6 658.3L825.7 661.5ZM826.4 662.6L829.4 659.4L832 664.1L829.1 667.3ZM828.4 668.2L831.6 664.8L834.2 669.5L831 672.9ZM830.7 673.1L834.1 669.5L836.7 674.4L833.4 678ZM834.4 677.7L838.2 673.6L840.6 677.9L836.8 682ZM836.6 682.9L840.3 679L842.5 683L838.8 687ZM838.9 687.9L843.8 682.6L846.3 687.3L841.5 692.5ZM842.2 692.7L845 689.7L847.4 694.2L844.7 697.2ZM844.6 696.8L847.5 693.7L849.8 697.8L846.9 700.9ZM812.6 629.6L816.4 625.5L819 630.2L815.2 634.3ZM815.7 635L819.8 630.5L822.6 635.7L818.5 640.1ZM819.1 639.4L822.9 635.3L825.3 639.8L821.6 643.9ZM822.2 645L825.5 641.4L827.7 645.4L824.4 648.9ZM824.9 649.1L828 645.7L830.1 649.6L827 652.9ZM827 653.8L830 650.5L832.2 654.4L829.1 657.7ZM830.3 659.1L833.1 656L835.6 660.6L832.8 663.6ZM832.6 663.9L835.4 660.9L837.6 665L834.8 668ZM835.6 668.4L838.6 665.1L840.9 669.3L837.9 672.6ZM839 673.8L840.8 671.8L842 673.9L840.1 676ZM839.8 678.6L843.4 674.8L845.6 678.9L842.1 682.8ZM842.5 684.9L847.6 679.4L850 683.9L844.9 689.4ZM845.3 686.8L848.2 683.6L851.8 690.1L848.9 693.3ZM816.5 624.1L819.7 620.7L823.1 627L820 630.4ZM820 631L823.6 627.1L826.1 631.5L822.4 635.4ZM821.8 635.1L825.3 631.3L827.9 636.2L824.4 639.9ZM825 640.5L828.5 636.7L831.1 641.4L827.6 645.2ZM827.6 645.6L831.1 641.8L833.3 645.7L829.8 649.5ZM831 649.8L834.4 646L837 650.6L833.5 654.4ZM832.9 654.8L836.6 650.8L839.1 655.4L835.4 659.4ZM836.8 659.9L838.7 657.8L840.4 660.8L838.4 662.9ZM838.8 664.8L841.8 661.6L844.4 666.4L841.5 669.6ZM842 670L845.3 666.4L847.7 670.7L844.4 674.3ZM844.5 674.6L847.8 671L849.7 674.5L846.4 678.1ZM846.9 679.3L850.1 675.8L852.5 680L849.2 683.5ZM820.3 622.2L823.5 618.7L826 623.1L822.7 626.6ZM823.1 625.5L826.4 621.9L830 628.5L826.7 632.1ZM826.6 631.6L830.1 627.7L832.7 632.4L829.2 636.3ZM829.6 636.4L833 632.7L835.1 636.5L831.7 640.2ZM832.4 642.1L835.5 638.7L837.4 642.2L834.3 645.6ZM835 646L838.1 642.6L840.3 646.7L837.2 650.1ZM837.3 651.2L840.5 647.7L843.3 652.8L840.1 656.3ZM839.8 655.4L843.2 651.6L846.1 656.9L842.7 660.6ZM842.4 660.1L845.9 656.3L848.8 661.4L845.2 665.3ZM844.7 665.8L848.5 661.7L850.9 666.2L847.2 670.2ZM847.3 671.5L851 667.5L853.3 671.7L849.6 675.7ZM850.1 675.1L853.8 671.2L856.5 676L852.8 680ZM827.3 622L830.9 618.1L833.5 622.8L829.9 626.7ZM830.2 627.5L833.5 623.9L835.8 628.2L832.6 631.8ZM832.2 631.1L835.4 627.7L838.9 634.1L835.8 637.5ZM835.6 637.5L838.8 634.1L840.7 637.6L837.5 640.9ZM838.1 642.7L841.1 639.3L843.3 643.1L840.2 646.5ZM841.6 646.9L844.3 643.9L846.7 648.2L844 651.1ZM843.8 651.7L846.8 648.4L849.2 652.8L846.1 656.1ZM845.7 656.8L849.1 653.2L851.4 657.3L848 661ZM849 662.6L852.7 658.6L854.8 662.6L851.1 666.5ZM852.7 666.8L855.1 664.2L856.5 666.8L854.1 669.4ZM834.3 623.8L837.4 620.4L839.8 624.7L836.6 628ZM836 628.5L839.4 624.8L841.4 628.5L838.1 632.2ZM838.6 634.3L843.3 629.2L845.3 632.9L840.6 638ZM841.5 637.9L844.9 634.2L847.1 638.3L843.8 641.9ZM844.6 642.9L847.9 639.3L850.4 643.8L847.1 647.3ZM847.3 648.2L850 645.3L852.4 649.8L849.7 652.7ZM850 653.3L853.3 649.7L855.7 653.9L852.3 657.5ZM852.1 657.3L855.6 653.5L859.1 659.8L855.6 663.6ZM855.1 663.5L858.4 660L860.4 663.7L857.1 667.2ZM837.1 618.9L840.6 615L843.4 620L839.8 623.8ZM840.2 624.3L843.6 620.5L846 624.7L842.5 628.5ZM845.5 634.6L848.6 631.2L850.8 635.2L847.7 638.6ZM847.9 638.9L850.7 635.9L853 640.1L850.2 643.2ZM850.8 643.4L854 639.9L856.9 645.1L853.6 648.6ZM852.9 648.7L856.5 644.8L859.1 649.5L855.5 653.3ZM854.9 655.3L860.1 649.7L862.3 653.8L857.1 659.4ZM859.1 658.6L862.9 654.5L865.4 659L861.5 663.1ZM840.3 615.8L843.7 612.1L846.5 617.2L843.1 620.9ZM843.7 620.4L847.3 616.6L849.9 621.3L846.3 625.2ZM846 626.5L851 621L853.3 625.1L848.2 630.6ZM849.8 630.5L851.7 628.4L853.1 630.8L851.1 632.9ZM852.2 634.9L855.5 631.4L858.1 636.2L854.9 639.7ZM853.3 639L856.5 635.7L860.5 642.9L857.3 646.3ZM856.8 644.4L859.9 641.1L862.3 645.5L859.2 648.8ZM859.1 649.2L863 645L866.7 651.7L862.8 655.9ZM861.9 656.3L867.2 650.6L869.5 654.9L864.3 660.7ZM845.3 611.4L848.4 608L850.9 612.4L847.7 615.8ZM847.1 616.2L850.4 612.6L852.5 616.4L849.2 620ZM851.8 621.4L853.9 619.2L855.1 621.5L853.1 623.7ZM852.3 626.2L855.7 622.5L858 626.6L854.6 630.3ZM855.2 630.5L858.6 626.9L861.2 631.6L857.8 635.2ZM858.4 635.5L861.8 631.9L864.7 637.2L861.3 640.8ZM860.3 640.7L864.1 636.6L866.6 641.2L862.8 645.3ZM863 646.6L868.2 641L870.6 645.3L865.4 650.9ZM866.6 650.8L870.3 646.7L872.6 650.9L868.8 654.9ZM851.5 612.8L854.7 609.4L856.8 613.1L853.6 616.6ZM854 617.7L857.2 614.3L858.9 617.5L855.8 620.9ZM856.6 623.3L861 618.6L863.2 622.6L858.8 627.4ZM859.2 626.9L862.2 623.6L864.4 627.6L861.4 630.9ZM865 636.7L868.5 633L870.9 637.4L867.5 641.1ZM868.8 642.1L871.1 639.6L872.5 642.2L870.2 644.7ZM868.9 647.7L874.5 641.6L877.1 646.4L871.6 652.4ZM855.1 608.4L858.8 604.4L861.3 609L857.6 613ZM856.9 613.7L860.7 609.6L862.8 613.4L858.9 617.5ZM860.1 618.4L863.4 614.9L865.7 619.2L862.5 622.6ZM862.6 622.6L865.4 619.6L867.9 624L865.1 627ZM865.7 628.2L868.7 625L871 629L867.9 632.3ZM868.8 633L871.8 629.8L874.1 634L871.1 637.2ZM871.5 638.7L875 635L877 638.7L873.6 642.4ZM874.4 643L877.6 639.6L879.7 643.5L876.6 646.9ZM875.9 646.4L878.8 643.3L882.3 649.7L879.4 652.8ZM856.7 599.3L858.6 597.1L860.2 600L858.2 602.1ZM858.9 604.9L862.6 601L864.7 604.9L861.1 608.8ZM861.7 609.9L865.2 606.2L867.6 610.4L864.1 614.2ZM863.5 614.4L867.2 610.4L869.6 614.7L865.9 618.7ZM866.2 618.8L869.4 615.3L871.9 620L868.7 623.4ZM869.5 623.9L872.6 620.6L875.2 625.3L872.1 628.6ZM870.7 627.3L874.1 623.5L878 630.6L874.6 634.4ZM874.3 633.8L878.3 629.5L881 634.4L877 638.7ZM876.9 638.4L880.7 634.4L883.1 638.6L879.3 642.7ZM880.7 643.7L883.8 640.3L886.1 644.4L882.9 647.8ZM858.9 596.1L864.1 590.4L866.5 594.8L861.3 600.4ZM862.3 600.9L865.8 597.1L868.1 601.2L864.6 604.9ZM865.7 605.2L868.8 601.8L870.9 605.6L867.8 609ZM867.9 610.3L871.1 606.8L873.2 610.6L869.9 614.1ZM870.6 615.4L873.7 612.1L876.1 616.5L873 619.8ZM873.1 619.8L876.3 616.3L878.9 621.1L875.7 624.6ZM875.7 625L879.1 621.3L881.8 626.3L878.4 630ZM878 630.3L881.9 626.1L884.4 630.7L880.6 634.9ZM880.8 634.3L884.3 630.4L887.2 635.7L883.6 639.5ZM885.4 639.9L887.4 637.7L889 640.4L887 642.6ZM866.6 596.2L869.8 592.7L872.1 596.9L868.9 600.4ZM869 601.3L872.2 597.7L874.5 601.9L871.3 605.4ZM871.8 606.6L874.8 603.4L877.1 607.6L874.1 610.8ZM875.4 611.5L877.1 609.6L878.6 612.3L876.9 614.2ZM876.7 616.3L879.7 613.1L882.2 617.6L879.2 620.8ZM878.8 622.6L884 617L886.1 620.9L880.9 626.5ZM881.5 625.6L884.8 622L887.3 626.5L884 630.1ZM884.4 631.4L887.9 627.5L890.2 631.5L886.6 635.4ZM886.8 634.8L890.1 631.2L893.6 637.7L890.4 641.2ZM867.1 587.7L870.2 584.3L872.4 588.4L869.3 591.8ZM868.7 593.3L873.5 588.1L875.5 591.7L870.6 596.9ZM873.1 598.1L876.4 594.5L878.4 598.2L875.1 601.7ZM876.8 602.8L878.7 600.8L880.2 603.5L878.3 605.5ZM877.8 606.9L880.8 603.7L883.3 608.3L880.4 611.5ZM879.9 612.5L884.3 607.8L886.6 612L882.2 616.8ZM883 616.2L886.3 612.6L890 619.3L886.6 622.9ZM885.8 621.7L889.1 618.1L891.7 622.8L888.4 626.4ZM890.1 626.3L892.3 624L893.8 626.9L891.7 629.2ZM891.4 632L894.2 629L896.4 633L893.6 635.9ZM895.8 636.4L897.5 634.5L898.6 636.5L896.9 638.3ZM869.7 584.4L874.8 578.9L877.6 584L872.5 589.5ZM873.7 588.5L877.3 584.7L879.7 589.1L876.2 592.9ZM876 593L879.7 589L882.1 593.4L878.4 597.4ZM878.1 598.6L881.4 595.1L883.9 599.7L880.7 603.2ZM881.5 602.6L884.4 599.5L886.7 603.8L883.9 606.9ZM884.8 607.5L887.7 604.3L890 608.5L887.1 611.7ZM886.3 613.5L889.9 609.6L892.2 613.8L888.6 617.6ZM889.6 618.1L893.1 614.3L895.6 618.7L892.1 622.5ZM892.4 622.8L896 618.9L898.3 623.2L894.7 627.1ZM894.9 627.6L898 624.4L900.4 628.8L897.4 632.1ZM896.5 633.1L901.4 627.9L903.4 631.6L898.6 636.8ZM874.3 578.8L877.6 575.3L880.1 580L876.9 583.5ZM876.3 585.6L881.6 580L883.7 583.8L878.5 589.5ZM879.8 590L883.5 585.9L886 590.4L882.3 594.5ZM882 594.5L885.5 590.7L888.1 595.4L884.6 599.2ZM884.8 598.6L888.1 595L890.9 600.2L887.7 603.8ZM888.1 604L891.2 600.7L893.8 605.4L890.7 608.7ZM890.2 607L893.6 603.4L897.5 610.4L894.1 614.1ZM893.1 613.7L896.7 609.8L899.1 614.2L895.5 618.1ZM896.2 619L899.7 615.2L902.4 620L898.8 623.8ZM898.9 624.1L902.2 620.6L904.4 624.6L901.1 628.1ZM900.8 628.3L904.2 624.6L906.6 629L903.2 632.7ZM904.3 633.8L907.5 630.4L909.8 634.5L906.6 638ZM877.6 575.1L880.7 571.8L884.1 577.9L881 581.2ZM881 580.2L884 577L886 580.7L883 584ZM883.9 585.5L887.2 581.9L889.1 585.4L885.8 589ZM887 590.5L888.8 588.6L890.1 591L888.3 592.9ZM888.4 595.7L891.5 592.2L893.9 596.5L890.7 599.9ZM891.6 600.1L894.6 596.9L897.2 601.5L894.1 604.7ZM895.2 604.7L897.2 602.5L898.6 605.2L896.6 607.3ZM897.1 610L900.7 606.1L903.3 610.8L899.7 614.7ZM899.9 615.3L903.6 611.3L906.1 615.9L902.4 619.8ZM902.5 619.8L905.7 616.3L908 620.5L904.8 623.9ZM905 624.6L908.3 621L910.4 624.9L907.1 628.5ZM908 629.9L911.3 626.2L913.4 630L910.1 633.7ZM910.5 634.4L913.8 630.8L916.4 635.6L913.1 639.1ZM887 581.5L890.3 577.9L892.3 581.4L888.9 585.1ZM890.1 585.7L893.1 582.5L895.5 586.7L892.4 589.9ZM892.6 590.9L895.2 588L897.5 592.1L894.8 594.9ZM895.5 595.9L897.9 593.2L900 597L897.5 599.6ZM898.2 600.8L901.1 597.7L903.5 602.1L900.6 605.2ZM900.4 605.3L903.6 601.9L906 606.3L902.8 609.7ZM904.1 610.3L907.2 607L909.4 611L906.3 614.4ZM907.7 615.4L909.5 613.4L910.8 615.8L909 617.8ZM911.8 626.1L915.3 622.3L917.5 626.3L914 630.1ZM913.5 630.6L916.9 627L919.6 631.9L916.3 635.5ZM897.5 587.2L899.3 585.1L900.9 588.1L899.1 590.1ZM899.5 591.6L902.6 588.3L905.1 592.9L902 596.2ZM901.6 597L904.9 593.4L907.1 597.6L903.9 601.1ZM904.6 601.5L908.3 597.5L910.8 602.1L907.1 606ZM906.9 607.3L910.1 603.8L912.3 607.9L909.2 611.4ZM910.7 611.6L913.7 608.3L915.6 611.7L912.6 614.9ZM913.3 617.5L916.3 614.3L918.1 617.5L915.1 620.7ZM914.9 620.9L917.9 617.7L920.1 621.8L917.2 625ZM917.5 627.2L922 622.3L924.4 626.7L919.9 631.6ZM920.2 630.4L923 627.4L925.7 632.3L922.9 635.3ZM909.3 603L914.7 597.1L917.6 602.3L912.1 608.2ZM913 607.6L916.7 603.7L918.9 607.7L915.2 611.6ZM916.2 612.4L919.6 608.7L921.8 612.7L918.4 616.4ZM919.4 617.1L922.2 614L924.5 618.1L921.6 621.2ZM921.6 620.9L924.1 618.2L927.7 624.7L925.2 627.5ZM924.1 627.2L927 623.9L929.7 628.7L926.7 631.9ZM919.6 608.6L923.1 604.8L925.4 609L921.9 612.8ZM921.8 612.3L925.2 608.6L929.2 615.8L925.7 619.5ZM924.5 618.1L928 614.3L930.9 619.5L927.4 623.3ZM927.9 622.6L930.8 619.5L933.5 624.4L930.6 627.5Z" fill="#000"/>
<path clip-path="url(#h4)" d="M867 610L868.4 609.4M895.9 593L898.3 593.7M868.8 610.9L869.9 613M840.6 689.9L842.6 690.1M839.9 640.7L840.8 643.6M834.2 635.8L835 637.6M876 593.4L877.9 597.1M841.8 674.4L842.9 677M818.1 637.8L820.3 637.8M823.2 657.6L825.1 654.7M825.8 651.5L829.5 649.4M839.1 653.7L840.5 655.8M915.3 624.4L917.6 628.2M828.3 673L829.1 675.1M871.2 610.6L872.3 613.3M823.5 632.2L824.9 629.4M834.6 642.5L835.7 640.8M831.1 659.5L832.3 658.5M845 624.9L847.5 622.2M835.2 648.2L837.4 652" fill="none" stroke="#fff" stroke-width="0.8" stroke-linecap="round"/>
</g>
<path d="M393 501.9C391.6 500.7 387.9 496.7 384.4 494.8C380.9 492.9 376.1 491.2 371.9 490.4C367.7 489.6 364.1 489.7 359.4 490.2C354.7 490.7 349 491.9 343.8 493.3C338.6 494.7 333.3 496.6 328.1 498.8C322.9 501 317.7 503.2 312.5 506.6C307.3 510 302.1 514.1 296.9 519C291.7 523.9 285.4 530.7 281.2 536.2C277 541.7 274.5 546.2 271.9 551.9C269.3 557.6 266.9 564.9 265.6 570.6C264.3 576.3 263.7 581.8 264 586.2C264.3 590.6 266.7 595.4 267.2 597.2" fill="none" stroke="#fff" stroke-width="6.6" stroke-linecap="butt"/>
<path d="M602.7 572.2C601.5 570.1 598.6 562.8 595.6 559.7C592.6 556.6 588.6 555 584.7 553.4C580.8 551.8 576.9 550.9 572.2 550.3C567.5 549.6 561.8 549.2 556.6 549.5C551.4 549.8 546.1 550.6 540.9 551.9C535.7 553.2 530.5 554.8 525.3 557.3C520.1 559.8 514.9 562.7 509.7 566.7C504.5 570.8 498.7 576.2 494 581.6C489.3 587 485 593.3 481.6 598.8C478.2 604.3 475.5 609.7 473.8 614.4C472.1 619.1 471.4 623 471.4 626.9C471.4 630.8 473.6 636.1 474 638" fill="none" stroke="#fff" stroke-width="6.6" stroke-linecap="butt"/>
<path d="M793.6 603.6C792.7 602.5 790.6 598.9 788.1 597.3C785.6 595.7 782.4 594.9 778.8 594.2C775.1 593.6 770.9 593.1 766.2 593.4C761.5 593.7 755.8 594.5 750.6 595.8C745.4 597.1 740.2 598.7 735 601.2C729.8 603.7 724.4 607 719.4 610.6C714.4 614.2 709.5 618.7 705.3 623.1C701.1 627.5 697.4 632.5 694.4 637.2C691.4 641.9 688.9 646.5 687.3 651.2C685.7 655.9 684.8 660.9 684.7 665.3C684.6 669.7 686.3 675.7 686.6 677.8" fill="none" stroke="#fff" stroke-width="6.6" stroke-linecap="butt"/>
<path d="M950.6 640.6C949.6 639.4 947.3 635.3 944.4 633.6C941.5 631.9 937.6 631.1 933.4 630.5C929.2 629.9 924.3 629.3 919.4 629.7C914.5 630.1 909 631.2 903.8 632.8C898.6 634.3 893.3 636.4 888.1 639C882.9 641.6 877.2 645 872.5 648.4C867.8 651.8 863.6 655.5 860 659.4C856.4 663.3 853 667.7 850.6 671.9C848.2 676.1 846.4 680.1 845.6 684.4C844.8 688.7 845.3 693.3 845.9 697.5C846.5 701.7 848.7 707.8 849.2 709.8" fill="none" stroke="#fff" stroke-width="6.6" stroke-linecap="butt"/>
<clipPath id="m5"><path d="M393 501.9C392.5 499.2 387.9 496.7 384.4 494.8C380.9 492.9 376.1 491.2 371.9 490.4C367.7 489.6 364.1 489.7 359.4 490.2C354.7 490.7 349 491.9 343.8 493.3C338.6 494.7 333.3 496.6 328.1 498.8C322.9 501 317.7 503.2 312.5 506.6C307.3 510 302.1 514.1 296.9 519C291.7 523.9 285.4 530.7 281.2 536.2C277 541.7 274.5 546.2 271.9 551.9C269.3 557.6 266.9 564.9 265.6 570.6C264.3 576.3 263.7 581.8 264 586.2C264.3 590.6 265.6 594.1 267.2 597.2C268.8 600.3 271.1 603.2 273.4 605C275.7 606.8 278.3 608 281.2 608C284.1 608 285.4 608.6 290.6 605C295.8 601.4 306.2 591.7 312.5 586.2C318.8 580.7 322.9 577.1 328.1 572.2C333.3 567.3 338.6 561.8 343.8 556.6C349 551.4 354.2 546.2 359.4 541C364.6 535.8 370.3 530.3 375 525.3C379.7 520.3 384.5 515.1 387.5 511.2C390.5 507.3 393.5 504.6 393 501.9Z"/></clipPath>
<path d="M393 501.9C392.5 499.2 387.9 496.7 384.4 494.8C380.9 492.9 376.1 491.2 371.9 490.4C367.7 489.6 364.1 489.7 359.4 490.2C354.7 490.7 349 491.9 343.8 493.3C338.6 494.7 333.3 496.6 328.1 498.8C322.9 501 317.7 503.2 312.5 506.6C307.3 510 302.1 514.1 296.9 519C291.7 523.9 285.4 530.7 281.2 536.2C277 541.7 274.5 546.2 271.9 551.9C269.3 557.6 266.9 564.9 265.6 570.6C264.3 576.3 263.7 581.8 264 586.2C264.3 590.6 265.6 594.1 267.2 597.2C268.8 600.3 271.1 603.2 273.4 605C275.7 606.8 278.3 608 281.2 608C284.1 608 285.4 608.6 290.6 605C295.8 601.4 306.2 591.7 312.5 586.2C318.8 580.7 322.9 577.1 328.1 572.2C333.3 567.3 338.6 561.8 343.8 556.6C349 551.4 354.2 546.2 359.4 541C364.6 535.8 370.3 530.3 375 525.3C379.7 520.3 384.5 515.1 387.5 511.2C390.5 507.3 393.5 504.6 393 501.9Z" fill="#000"/>
<path clip-path="url(#m5)" d="M263.1 588.4L264.1 588.6L264.4 589.6L263.4 589.4ZM265.5 596.6L266.4 596.8L266.7 597.8L265.8 597.6ZM263.6 565.5L264.8 565.8L265.2 567.2L264 566.9ZM266 573.8L267.1 574.1L267.5 575.3L266.4 575ZM267.9 581.6L269.7 582L270.3 583.9L268.5 583.5ZM270.1 589.6L272.2 590.1L272.8 592.3L270.7 591.8ZM272.7 598.1L274.4 598.5L274.9 600.2L273.2 599.8ZM275.5 606.7L276.5 606.9L276.8 608L275.8 607.8ZM270.8 567L272.8 567.5L273.4 569.6L271.4 569.1ZM272.6 574.6L275.4 575.4L276.3 578.4L273.5 577.6ZM274.5 582.4L278 583.3L279.1 587L275.6 586.1ZM276.9 590.7L280.3 591.5L281.4 595.1L278 594.3ZM280.1 599.7L282.3 600.2L282.9 602.5L280.7 602ZM282.9 608.4L284.3 608.7L284.8 610.2L283.4 609.9ZM271.9 544.8L273.2 545.1L273.6 546.5L272.3 546.2ZM274.1 552.8L275.6 553.2L276.1 554.9L274.6 554.5ZM275.7 560.3L278.4 561L279.2 563.8L276.5 563.1ZM277.4 567.8L281.1 568.7L282.2 572.7L278.5 571.8ZM279.6 575.9L283.5 576.9L284.7 581L280.8 580ZM282 584.1L285.8 585.1L287 589.2L283.2 588.2ZM284.3 592.3L288.2 593.3L289.4 597.4L285.5 596.4ZM287.4 601.2L290.2 601.9L291 604.9L288.2 604.2ZM277.5 538.8L278.4 539L278.7 540L277.8 539.8ZM279.2 546.4L281.1 546.8L281.7 548.8L279.8 548.4ZM280.7 553.6L283.9 554.5L284.9 558L281.7 557.1ZM282.6 561.5L286.5 562.4L287.7 566.5L283.8 565.6ZM285 569.7L288.8 570.6L290 574.7L286.2 573.8ZM287.3 577.9L291.2 578.8L292.4 582.9L288.5 582ZM289.7 586.1L293.5 587L294.7 591.1L290.9 590.2ZM292 594.3L295.9 595.2L297.1 599.3L293.2 598.4ZM284.4 539.9L286.6 540.5L287.2 542.8L285 542.2ZM285.8 547.2L289.4 548.1L290.5 551.9L286.9 551ZM288 555.2L291.8 556.2L293 560.3L289.2 559.3ZM290.3 563.4L294.2 564.4L295.4 568.5L291.5 567.5ZM292.7 571.6L296.5 572.6L297.7 576.7L293.9 575.7ZM295 579.8L298.9 580.8L300.1 584.9L296.2 583.9ZM297.4 588L301.2 589L302.4 593.1L298.6 592.1ZM299.7 596.2L303.6 597.2L304.8 601.3L300.9 600.3ZM289.7 533.6L291.9 534.2L292.6 536.6L290.4 536ZM291 540.8L294.8 541.7L296 545.8L292.2 544.9ZM293.3 549L297.2 549.9L298.4 554L294.5 553.1ZM295.7 557.2L299.5 558.1L300.7 562.2L296.9 561.3ZM298 565.4L301.9 566.3L303.1 570.4L299.2 569.5ZM300.4 573.6L304.2 574.5L305.4 578.6L301.6 577.7ZM302.7 581.8L306.6 582.7L307.8 586.8L303.9 585.9ZM305.1 590L308.9 590.9L310.1 595L306.3 594.1ZM295.1 527.4L297.2 528L297.9 530.3L295.8 529.7ZM296.4 534.6L300.2 535.5L301.3 539.5L297.5 538.6ZM298.7 542.7L302.5 543.7L303.7 547.8L299.9 546.8ZM301 550.9L304.9 551.9L306.1 556L302.2 555ZM303.4 559.1L307.2 560.1L308.4 564.2L304.6 563.2ZM305.7 567.3L309.6 568.3L310.8 572.4L306.9 571.4ZM308.1 575.5L311.9 576.5L313.1 580.6L309.3 579.6ZM310.4 583.7L314.3 584.7L315.5 588.8L311.6 587.8ZM298.4 513.3L300.1 513.7L300.6 515.5L298.9 515.1ZM300.5 521.2L302.6 521.7L303.2 524L301.1 523.5ZM301.8 528.4L305.5 529.3L306.6 533.2L302.9 532.3ZM304 536.5L307.9 537.4L309.1 541.5L305.2 540.6ZM306.4 544.7L310.2 545.6L311.4 549.7L307.6 548.8ZM308.7 552.9L312.6 553.8L313.8 557.9L309.9 557ZM311.1 561.1L314.9 562L316.1 566.1L312.3 565.2ZM313.4 569.3L317.3 570.2L318.5 574.3L314.6 573.4ZM315.8 577.5L319.6 578.4L320.8 582.5L317 581.6ZM305.3 514.4L308.2 515.1L309.1 518.3L306.2 517.6ZM307.1 522L310.9 523L312 527.1L308.2 526.1ZM309.4 530.2L313.2 531.2L314.4 535.3L310.6 534.3ZM311.7 538.4L315.6 539.4L316.8 543.5L312.9 542.5ZM314.1 546.6L317.9 547.6L319.1 551.7L315.3 550.7ZM316.4 554.8L320.3 555.8L321.5 559.9L317.6 558.9ZM318.8 563L322.6 564L323.8 568.1L320 567.1ZM321.1 571.2L325 572.2L326.2 576.3L322.3 575.3ZM311.1 508.7L313.3 509.2L314 511.5L311.8 511ZM312.4 515.8L316.2 516.7L317.4 520.8L313.6 519.9ZM314.7 524L318.6 524.9L319.8 529L315.9 528.1ZM317.1 532.2L320.9 533.1L322.1 537.2L318.3 536.3ZM319.4 540.4L323.3 541.3L324.5 545.4L320.6 544.5ZM321.8 548.6L325.6 549.5L326.8 553.6L323 552.7ZM324.1 556.8L328 557.7L329.2 561.8L325.3 560.9ZM326.5 565L330.3 565.9L331.5 570L327.7 569.1ZM317.7 509.5L321.6 510.5L322.8 514.6L318.9 513.6ZM320.1 517.7L323.9 518.7L325.1 522.8L321.3 521.8ZM322.4 525.9L326.3 526.9L327.5 531L323.6 530ZM324.8 534.1L328.6 535.1L329.8 539.2L326 538.2ZM327.1 542.3L331 543.3L332.2 547.4L328.3 546.4ZM329.5 550.5L333.3 551.5L334.5 555.6L330.7 554.6ZM331.8 558.7L335.7 559.7L336.9 563.8L333 562.8ZM323.4 503.6L326.8 504.4L327.8 508L324.4 507.2ZM325.4 511.5L329.3 512.4L330.5 516.5L326.6 515.6ZM327.8 519.7L331.6 520.6L332.8 524.7L329 523.8ZM330.1 527.9L334 528.8L335.2 532.9L331.3 532ZM332.5 536.1L336.3 537L337.5 541.1L333.7 540.2ZM334.8 544.3L338.7 545.2L339.9 549.3L336 548.4ZM337.2 552.5L341 553.4L342.2 557.5L338.4 556.6ZM329.9 498.5L331.5 498.9L332 500.6L330.4 500.2ZM330.8 505.2L334.6 506.2L335.8 510.3L332 509.3ZM333.1 513.4L337 514.4L338.2 518.5L334.3 517.5ZM335.5 521.6L339.3 522.6L340.5 526.7L336.7 525.7ZM337.8 529.8L341.7 530.8L342.9 534.9L339 533.9ZM340.2 538L344 539L345.2 543.1L341.4 542.1ZM342.5 546.2L346.4 547.2L347.6 551.3L343.7 550.3ZM344.9 554.4L348.7 555.4L349.9 559.5L346.1 558.5ZM335 492L337 492.5L337.6 494.6L335.6 494.1ZM336.1 499L340 499.9L341.2 504L337.3 503.1ZM338.5 507.2L342.3 508.1L343.5 512.2L339.7 511.3ZM340.8 515.4L344.7 516.3L345.9 520.4L342 519.5ZM343.2 523.6L347 524.5L348.2 528.6L344.4 527.7ZM345.5 531.8L349.4 532.7L350.6 536.8L346.7 535.9ZM347.9 540L351.7 540.9L352.9 545L349.1 544.1ZM350.2 548.2L354.1 549.1L355.3 553.2L351.4 552.3ZM342.9 494.1L344.6 494.6L345.1 496.4L343.4 495.9ZM343.8 500.9L347.7 501.9L348.9 506L345 505ZM346.2 509.1L350 510.1L351.2 514.2L347.4 513.2ZM348.5 517.3L352.4 518.3L353.6 522.4L349.7 521.4ZM350.9 525.5L354.7 526.5L355.9 530.6L352.1 529.6ZM353.2 533.7L357.1 534.7L358.3 538.8L354.4 537.8ZM355.6 541.9L359.4 542.9L360.6 547L356.8 546ZM349.4 494.9L352.9 495.8L354 499.5L350.5 498.6ZM351.5 502.9L355.4 503.8L356.6 507.9L352.7 507ZM353.9 511.1L357.7 512L358.9 516.1L355.1 515.2ZM356.2 519.3L360.1 520.2L361.3 524.3L357.4 523.4ZM358.6 527.5L362.4 528.4L363.6 532.5L359.8 531.6ZM360.9 535.7L364.8 536.6L366 540.7L362.1 539.8ZM356.9 496.6L360.7 497.6L361.9 501.7L358.1 500.7ZM359.2 504.8L363.1 505.8L364.3 509.9L360.4 508.9ZM361.6 513L365.4 514L366.6 518.1L362.8 517.1ZM364.2 521.5L367.6 522.4L368.7 526L365.3 525.1ZM366.5 529.6L370 530.5L371.1 534.3L367.6 533.4ZM363.4 491.5L365.5 492.1L366.1 494.3L364 493.7ZM364.6 498.6L368.4 499.5L369.6 503.6L365.8 502.7ZM366.9 506.8L370.8 507.7L372 511.8L368.1 510.9ZM369.8 515.5L372.9 516.3L373.8 519.5L370.7 518.7ZM370.6 493L373.4 493.7L374.3 496.7L371.5 496ZM372.3 500.5L376.1 501.5L377.3 505.6L373.5 504.6ZM375.1 509.2L378.2 510L379.2 513.3L376.1 512.5ZM378.7 495.4L380.9 495.9L381.6 498.2L379.4 497.7ZM380.5 503L383.6 503.8L384.5 507L381.4 506.2ZM394.5 499.7L396.1 500.1L396.6 501.7L395 501.3Z" fill="#fff"/>
<path d="M393 501.9C392.5 499.2 387.9 496.7 384.4 494.8C380.9 492.9 376.1 491.2 371.9 490.4C367.7 489.6 364.1 489.7 359.4 490.2C354.7 490.7 349 491.9 343.8 493.3C338.6 494.7 333.3 496.6 328.1 498.8C322.9 501 317.7 503.2 312.5 506.6C307.3 510 302.1 514.1 296.9 519C291.7 523.9 285.4 530.7 281.2 536.2C277 541.7 274.5 546.2 271.9 551.9C269.3 557.6 266.9 564.9 265.6 570.6C264.3 576.3 263.7 581.8 264 586.2C264.3 590.6 265.6 594.1 267.2 597.2C268.8 600.3 271.1 603.2 273.4 605C275.7 606.8 278.3 608 281.2 608C284.1 608 285.4 608.6 290.6 605C295.8 601.4 306.2 591.7 312.5 586.2C318.8 580.7 322.9 577.1 328.1 572.2C333.3 567.3 338.6 561.8 343.8 556.6C349 551.4 354.2 546.2 359.4 541C364.6 535.8 370.3 530.3 375 525.3C379.7 520.3 384.5 515.1 387.5 511.2C390.5 507.3 393.5 504.6 393 501.9Z" fill="none" stroke="#000" stroke-width="1.3"/>
<clipPath id="m6"><path d="M602.7 572.2C602.7 568.3 598.6 562.8 595.6 559.7C592.6 556.6 588.6 555 584.7 553.4C580.8 551.8 576.9 550.9 572.2 550.3C567.5 549.6 561.8 549.2 556.6 549.5C551.4 549.8 546.1 550.6 540.9 551.9C535.7 553.2 530.5 554.8 525.3 557.3C520.1 559.8 514.9 562.7 509.7 566.7C504.5 570.8 498.7 576.2 494 581.6C489.3 587 485 593.3 481.6 598.8C478.2 604.3 475.5 609.7 473.8 614.4C472.1 619.1 471.4 623 471.4 626.9C471.4 630.8 472.8 634.4 474 638C475.2 641.6 476.7 645.7 478.5 648.5C480.3 651.3 482.1 654.1 485 655C487.9 655.9 490.2 656.1 495.6 654C501 651.9 509.9 646.8 517.5 642.5C525 638.2 533.1 633.6 540.9 628.4C548.7 623.2 557.4 616.7 564.4 611.2C571.4 605.7 577.9 600.3 583.1 595.6C588.3 590.9 592.3 587 595.6 583.1C598.9 579.2 602.7 576.1 602.7 572.2Z"/></clipPath>
<path d="M602.7 572.2C602.7 568.3 598.6 562.8 595.6 559.7C592.6 556.6 588.6 555 584.7 553.4C580.8 551.8 576.9 550.9 572.2 550.3C567.5 549.6 561.8 549.2 556.6 549.5C551.4 549.8 546.1 550.6 540.9 551.9C535.7 553.2 530.5 554.8 525.3 557.3C520.1 559.8 514.9 562.7 509.7 566.7C504.5 570.8 498.7 576.2 494 581.6C489.3 587 485 593.3 481.6 598.8C478.2 604.3 475.5 609.7 473.8 614.4C472.1 619.1 471.4 623 471.4 626.9C471.4 630.8 472.8 634.4 474 638C475.2 641.6 476.7 645.7 478.5 648.5C480.3 651.3 482.1 654.1 485 655C487.9 655.9 490.2 656.1 495.6 654C501 651.9 509.9 646.8 517.5 642.5C525 638.2 533.1 633.6 540.9 628.4C548.7 623.2 557.4 616.7 564.4 611.2C571.4 605.7 577.9 600.3 583.1 595.6C588.3 590.9 592.3 587 595.6 583.1C598.9 579.2 602.7 576.1 602.7 572.2Z" fill="#000"/>
<path clip-path="url(#m6)" d="M476.8 620.6L477.9 621.1L478 622.4L476.9 621.9ZM477.3 627.6L478.6 628.2L478.7 629.8L477.4 629.2ZM478 635L479.1 635.5L479.2 636.8L478.1 636.3ZM482.2 609.1L483.5 609.7L483.6 611.2L482.3 610.6ZM482.4 615.7L484.4 616.6L484.6 619L482.6 618.1ZM482.8 622.7L485.1 623.7L485.4 626.4L483.1 625.4ZM483.4 629.9L485.7 630.9L486 633.6L483.7 632.6ZM484.2 637.3L486.2 638.2L486.4 640.6L484.4 639.7ZM485.1 645L486.6 645.6L486.7 647.3L485.2 646.7ZM487.7 597.8L488.9 598.4L489.1 599.8L487.9 599.2ZM487.9 604.4L489.9 605.3L490.1 607.6L488.1 606.7ZM488.2 611.1L490.8 612.3L491 615.3L488.4 614.1ZM488.5 617.8L491.6 619.2L491.9 623L488.8 621.6ZM489.1 625L492.2 626.4L492.5 630.2L489.4 628.8ZM489.7 632.2L492.8 633.6L493.1 637.4L490 636ZM490.7 640.1L493.1 641.1L493.3 643.9L490.9 642.9ZM492 648.3L493.1 648.8L493.2 650.1L492.1 649.6ZM493.4 586.8L494.3 587.1L494.4 588.1L493.5 587.8ZM493.6 593.3L495.2 594L495.4 596L493.8 595.3ZM493.8 599.9L496.2 601L496.4 603.8L494 602.7ZM494 606.5L497.1 607.9L497.4 611.6L494.3 610.2ZM494.6 613.7L497.7 615.1L498 618.8L494.9 617.4ZM495.2 620.9L498.3 622.3L498.6 626L495.5 624.6ZM495.8 628.1L498.9 629.5L499.2 633.2L496.1 631.8ZM496.4 635.4L499.5 636.7L499.8 640.3L496.7 639ZM497.7 643.5L499.5 644.4L499.7 646.6L497.9 645.7ZM498.8 651.5L499.7 651.9L499.8 653L498.9 652.6ZM499.3 582.2L500.6 582.8L500.7 584.4L499.4 583.8ZM499.5 588.8L501.5 589.7L501.7 592.2L499.7 591.3ZM499.6 595.4L502.5 596.7L502.8 600L499.9 598.7ZM500.1 602.3L503.2 603.7L503.5 607.5L500.4 606.1ZM500.7 609.5L503.8 610.9L504.1 614.7L501 613.3ZM501.3 616.7L504.4 618.1L504.7 621.9L501.6 620.5ZM501.9 623.9L505 625.3L505.3 629.1L502.2 627.7ZM502.5 631.1L505.6 632.5L505.9 636.3L502.8 634.9ZM503.2 638.4L506.1 639.8L506.4 643.4L503.5 642ZM504.2 646.3L506.4 647.3L506.6 649.9L504.4 648.9ZM505 571.2L505.9 571.6L506 572.7L505.1 572.3ZM504.8 577.2L507.2 578.3L507.4 581.1L505 580ZM505.3 584.2L507.9 585.4L508.1 588.5L505.5 587.3ZM505.6 591L508.7 592.4L509 596.1L505.9 594.7ZM506.2 598.2L509.3 599.6L509.6 603.3L506.5 601.9ZM506.8 605.4L509.9 606.8L510.2 610.5L507.1 609.1ZM507.4 612.6L510.5 614L510.8 617.7L507.7 616.3ZM508 619.8L511.1 621.2L511.4 624.9L508.3 623.5ZM508.6 627L511.7 628.4L512 632.1L508.9 630.7ZM509.2 634.2L512.3 635.6L512.6 639.3L509.5 637.9ZM509.8 641.4L512.9 642.8L513.2 646.5L510.1 645.1ZM510.8 566.7L512.2 567.3L512.4 568.9L511 568.3ZM510.5 572.4L513.6 573.8L513.9 577.6L510.8 576.2ZM511.1 579.6L514.2 581L514.5 584.8L511.4 583.4ZM511.7 586.8L514.8 588.2L515.1 592L512 590.6ZM512.3 594L515.4 595.4L515.7 599.2L512.6 597.8ZM512.9 601.2L516 602.6L516.3 606.4L513.2 605ZM513.5 608.4L516.6 609.8L516.9 613.6L513.8 612.2ZM514.1 615.6L517.2 617L517.5 620.8L514.4 619.4ZM514.7 622.8L517.8 624.2L518.1 628L515 626.6ZM515.3 630L518.4 631.4L518.7 635.2L515.6 633.8ZM515.9 637.2L519 638.6L519.3 642.4L516.2 641ZM517 562.6L518.3 563.2L518.4 564.7L517.1 564.1ZM516.6 568.3L519.7 569.7L520 573.4L516.9 572ZM517.2 575.5L520.3 576.9L520.6 580.6L517.5 579.2ZM517.8 582.7L520.9 584.1L521.2 587.8L518.1 586.4ZM518.4 589.9L521.5 591.3L521.8 595L518.7 593.6ZM519 597.1L522.1 598.5L522.4 602.2L519.3 600.8ZM519.6 604.3L522.7 605.7L523 609.4L519.9 608ZM520.2 611.5L523.3 612.9L523.6 616.6L520.5 615.2ZM520.8 618.7L523.9 620.1L524.2 623.8L521.1 622.4ZM521.4 625.9L524.5 627.3L524.8 631L521.7 629.6ZM522 633.1L525.1 634.5L525.4 638.2L522.3 636.8ZM523.2 558.6L524.3 559.1L524.4 560.4L523.3 559.9ZM522.7 564.1L525.8 565.5L526.1 569.3L523 567.9ZM523.3 571.3L526.4 572.7L526.7 576.5L523.6 575.1ZM523.9 578.5L527 579.9L527.3 583.7L524.2 582.3ZM524.5 585.7L527.6 587.1L527.9 590.9L524.8 589.5ZM525.1 592.9L528.2 594.3L528.5 598.1L525.4 596.7ZM525.7 600.1L528.8 601.5L529.1 605.3L526 603.9ZM526.3 607.3L529.4 608.7L529.7 612.5L526.6 611.1ZM526.9 614.5L530 615.9L530.3 619.7L527.2 618.3ZM527.5 621.7L530.6 623.1L530.9 626.9L527.8 625.5ZM528.1 628.9L531.2 630.3L531.5 634.1L528.4 632.7ZM528.8 560L531.9 561.4L532.2 565.1L529.1 563.7ZM529.4 567.2L532.5 568.6L532.8 572.3L529.7 570.9ZM530 574.4L533.1 575.8L533.4 579.5L530.3 578.1ZM530.6 581.6L533.7 583L534 586.7L530.9 585.3ZM531.2 588.8L534.3 590.2L534.6 593.9L531.5 592.5ZM531.8 596L534.9 597.4L535.2 601.1L532.1 599.7ZM532.4 603.2L535.5 604.6L535.8 608.3L532.7 606.9ZM533 610.4L536.1 611.8L536.4 615.5L533.3 614.1ZM533.6 617.6L536.7 619L537 622.7L533.9 621.3ZM534.2 624.8L537.3 626.2L537.6 629.9L534.5 628.5ZM534.8 632L537.9 633.4L538.2 637.1L535.1 635.7ZM535.2 549.9L536.7 550.6L536.8 552.5L535.3 551.8ZM535.2 556.3L537.8 557.4L538 560.5L535.4 559.4ZM535.5 563L538.6 564.4L538.9 568.2L535.8 566.8ZM536.1 570.2L539.2 571.6L539.5 575.4L536.4 574ZM536.7 577.4L539.8 578.8L540.1 582.6L537 581.2ZM537.3 584.6L540.4 586L540.7 589.8L537.6 588.4ZM537.9 591.8L541 593.2L541.3 597L538.2 595.6ZM538.5 599L541.6 600.4L541.9 604.2L538.8 602.8ZM539.1 606.2L542.2 607.6L542.5 611.4L539.4 610ZM539.7 613.4L542.8 614.8L543.1 618.6L540 617.2ZM540.3 620.6L543.4 622L543.7 625.8L540.6 624.4ZM540.9 627.8L544 629.2L544.3 633L541.2 631.6ZM541.8 552.9L543.5 553.6L543.6 555.6L541.9 554.9ZM541.6 558.9L544.7 560.3L545 564L541.9 562.6ZM542.2 566.1L545.3 567.5L545.6 571.2L542.5 569.8ZM542.8 573.3L545.9 574.7L546.2 578.4L543.1 577ZM543.4 580.5L546.5 581.9L546.8 585.6L543.7 584.2ZM544 587.7L547.1 589.1L547.4 592.8L544.3 591.4ZM544.6 594.9L547.7 596.3L548 600L544.9 598.6ZM545.2 602.1L548.3 603.5L548.6 607.2L545.5 605.8ZM545.8 609.3L548.9 610.7L549.2 614.4L546.1 613ZM546.4 616.5L549.5 617.9L549.8 621.6L546.7 620.2ZM547 623.7L550.1 625.1L550.4 628.8L547.3 627.4ZM548.3 549.4L549.2 549.8L549.3 550.8L548.4 550.4ZM547.7 554.7L550.8 556.1L551.1 559.9L548 558.5ZM548.3 561.9L551.4 563.3L551.7 567.1L548.6 565.7ZM548.9 569.1L552 570.5L552.3 574.3L549.2 572.9ZM549.5 576.3L552.6 577.7L552.9 581.5L549.8 580.1ZM550.1 583.5L553.2 584.9L553.5 588.7L550.4 587.3ZM550.7 590.7L553.8 592.1L554.1 595.9L551 594.5ZM551.3 597.9L554.4 599.3L554.7 603.1L551.6 601.7ZM551.9 605.1L555 606.5L555.3 610.3L552.2 608.9ZM552.5 612.3L555.6 613.7L555.9 617.5L552.8 616.1ZM554.4 551.5L556.4 552.4L556.6 554.8L554.6 553.9ZM554.4 557.8L557.5 559.2L557.8 562.9L554.7 561.5ZM555 565L558.1 566.4L558.4 570.1L555.3 568.7ZM555.6 572.2L558.7 573.6L559 577.3L555.9 575.9ZM556.2 579.4L559.3 580.8L559.6 584.5L556.5 583.1ZM556.8 586.6L559.9 588L560.2 591.7L557.1 590.3ZM557.4 593.8L560.5 595.2L560.8 598.9L557.7 597.5ZM558 601L561.1 602.4L561.4 606.1L558.3 604.7ZM558.6 608.2L561.7 609.6L562 613.3L558.9 611.9ZM561.1 548.3L562 548.7L562.1 549.7L561.2 549.3ZM560.5 553.6L563.6 555L563.9 558.8L560.8 557.4ZM561.1 560.8L564.2 562.2L564.5 566L561.4 564.6ZM561.7 568L564.8 569.4L565.1 573.2L562 571.8ZM562.3 575.2L565.4 576.6L565.7 580.4L562.6 579ZM562.9 582.4L566 583.8L566.3 587.6L563.2 586.2ZM563.5 589.6L566.6 591L566.9 594.8L563.8 593.4ZM564.1 596.8L567.2 598.2L567.5 602L564.4 600.6ZM564.7 604L567.8 605.4L568.1 609.2L565 607.8ZM567.5 550.9L568.9 551.5L569.1 553.2L567.7 552.6ZM567.2 556.7L570.3 558.1L570.6 561.8L567.5 560.4ZM567.8 563.9L570.9 565.3L571.2 569L568.1 567.6ZM568.4 571.1L571.5 572.5L571.8 576.2L568.7 574.8ZM569 578.3L572.1 579.7L572.4 583.4L569.3 582ZM569.6 585.5L572.7 586.9L573 590.6L569.9 589.2ZM570.2 592.7L573.3 594.1L573.6 597.8L570.5 596.4ZM570.8 599.9L573.9 601.3L574.2 605L571.1 603.6ZM573.4 546.4L575.2 547.2L575.4 549.4L573.6 548.6ZM573.7 553.2L576 554.3L576.3 557L574 555.9ZM573.9 559.7L577 561.1L577.3 564.9L574.2 563.5ZM574.5 566.9L577.6 568.3L577.9 572.1L574.8 570.7ZM575.1 574.1L578.2 575.5L578.5 579.3L575.4 577.9ZM575.7 581.3L578.8 582.7L579.1 586.5L576 585.1ZM576.8 589.3L579 590.3L579.2 592.9L577 591.9ZM577.6 596.8L579.4 597.6L579.6 599.8L577.8 599ZM580.4 549.9L581.7 550.5L581.8 552L580.5 551.4ZM580.1 555.8L583 557.1L583.3 560.5L580.4 559.2ZM580.6 562.8L583.7 564.2L584 567.9L580.9 566.5ZM581.2 570L584.3 571.4L584.6 575.1L581.5 573.7ZM581.8 577.2L584.9 578.6L585.2 582.3L582.1 580.9ZM583.1 585.4L584.9 586.3L585.1 588.5L583.3 587.6ZM587.2 553.2L588.3 553.6L588.4 554.8L587.3 554.4ZM587.1 559.3L589.4 560.4L589.7 563.1L587.4 562ZM587.4 566L590.3 567.3L590.6 570.8L587.7 569.5ZM588.1 573.4L590.8 574.6L591.1 577.8L588.4 576.6ZM589.4 581.6L590.9 582.2L591 584L589.5 583.4ZM590.3 589.3L591.2 589.7L591.3 590.7L590.4 590.3ZM593.8 556L595.1 556.6L595.2 558.1L593.9 557.5ZM594.4 563.3L595.6 563.8L595.8 565.2L594.6 564.7ZM594.7 569.9L596.6 570.8L596.7 573L594.8 572.1ZM595.8 577.8L596.7 578.3L596.8 579.5L595.9 579ZM596.2 584.8L597.5 585.4L597.6 586.9L596.3 586.3ZM601.3 566.5L602.2 567L602.3 568.1L601.4 567.6ZM602 573.9L602.8 574.2L602.8 575.1L602 574.8Z" fill="#fff"/>
<path d="M602.7 572.2C602.7 568.3 598.6 562.8 595.6 559.7C592.6 556.6 588.6 555 584.7 553.4C580.8 551.8 576.9 550.9 572.2 550.3C567.5 549.6 561.8 549.2 556.6 549.5C551.4 549.8 546.1 550.6 540.9 551.9C535.7 553.2 530.5 554.8 525.3 557.3C520.1 559.8 514.9 562.7 509.7 566.7C504.5 570.8 498.7 576.2 494 581.6C489.3 587 485 593.3 481.6 598.8C478.2 604.3 475.5 609.7 473.8 614.4C472.1 619.1 471.4 623 471.4 626.9C471.4 630.8 472.8 634.4 474 638C475.2 641.6 476.7 645.7 478.5 648.5C480.3 651.3 482.1 654.1 485 655C487.9 655.9 490.2 656.1 495.6 654C501 651.9 509.9 646.8 517.5 642.5C525 638.2 533.1 633.6 540.9 628.4C548.7 623.2 557.4 616.7 564.4 611.2C571.4 605.7 577.9 600.3 583.1 595.6C588.3 590.9 592.3 587 595.6 583.1C598.9 579.2 602.7 576.1 602.7 572.2Z" fill="none" stroke="#000" stroke-width="1.3"/>
<clipPath id="m7"><path d="M793.6 603.6C793 601.6 790.6 598.9 788.1 597.3C785.6 595.7 782.4 594.9 778.8 594.2C775.1 593.6 770.9 593.1 766.2 593.4C761.5 593.7 755.8 594.5 750.6 595.8C745.4 597.1 740.2 598.7 735 601.2C729.8 603.7 724.4 607 719.4 610.6C714.4 614.2 709.5 618.7 705.3 623.1C701.1 627.5 697.4 632.5 694.4 637.2C691.4 641.9 688.9 646.5 687.3 651.2C685.7 655.9 684.8 660.9 684.7 665.3C684.6 669.7 685.2 673.9 686.6 677.8C688 681.7 690.5 685.9 692.8 688.8C695.1 691.7 697.7 693.8 700.6 695C703.5 696.2 706.4 696.8 710 695.8C713.6 694.8 717.8 692.3 722.5 688.8C727.2 685.3 732.9 679.9 738.1 674.7C743.3 669.5 748.6 663.5 753.8 657.5C759 651.5 764.5 645 769.4 638.8C774.3 632.5 779.6 625 783.4 620C787.2 615 790.3 611.7 792 609C793.7 606.3 794.2 605.6 793.6 603.6Z"/></clipPath>
<path d="M793.6 603.6C793 601.6 790.6 598.9 788.1 597.3C785.6 595.7 782.4 594.9 778.8 594.2C775.1 593.6 770.9 593.1 766.2 593.4C761.5 593.7 755.8 594.5 750.6 595.8C745.4 597.1 740.2 598.7 735 601.2C729.8 603.7 724.4 607 719.4 610.6C714.4 614.2 709.5 618.7 705.3 623.1C701.1 627.5 697.4 632.5 694.4 637.2C691.4 641.9 688.9 646.5 687.3 651.2C685.7 655.9 684.8 660.9 684.7 665.3C684.6 669.7 685.2 673.9 686.6 677.8C688 681.7 690.5 685.9 692.8 688.8C695.1 691.7 697.7 693.8 700.6 695C703.5 696.2 706.4 696.8 710 695.8C713.6 694.8 717.8 692.3 722.5 688.8C727.2 685.3 732.9 679.9 738.1 674.7C743.3 669.5 748.6 663.5 753.8 657.5C759 651.5 764.5 645 769.4 638.8C774.3 632.5 779.6 625 783.4 620C787.2 615 790.3 611.7 792 609C793.7 606.3 794.2 605.6 793.6 603.6Z" fill="#000"/>
<path clip-path="url(#m7)" d="M688.5 668.3L689.3 668.6L689.5 669.5L688.7 669.2ZM689.9 675L690.8 675.3L691 676.2L690.1 675.9ZM690.7 650.7L691.5 651L691.7 651.8L690.9 651.5ZM691.9 657.1L693.1 657.5L693.4 658.8L692.2 658.4ZM693.2 663.5L694.7 664.1L695 665.8L693.5 665.2ZM694.6 670.2L696.2 670.8L696.5 672.5L694.9 671.9ZM696.1 677L697.6 677.5L697.9 679.1L696.4 678.6ZM697.7 683.9L698.9 684.3L699.2 685.6L698 685.2ZM695.6 646.2L696.7 646.6L697 647.8L695.9 647.4ZM696.7 652.5L698.4 653.1L698.8 654.9L697.1 654.3ZM697.9 658.9L700 659.7L700.5 661.9L698.4 661.1ZM699.2 665.4L701.6 666.3L702.1 668.8L699.7 667.9ZM700.6 672.1L703 673L703.6 675.5L701.2 674.6ZM702.3 679L704.3 679.8L704.8 682L702.8 681.2ZM704.1 686.2L705.5 686.7L705.9 688.2L704.5 687.7ZM699.4 635.5L700.3 635.8L700.5 636.6L699.6 636.3ZM700.5 641.7L702 642.2L702.3 643.8L700.8 643.3ZM701.6 648L703.6 648.7L704.1 650.9L702.1 650.2ZM702.7 654.3L705.3 655.2L705.9 658L703.3 657.1ZM703.9 660.7L706.9 661.8L707.6 665L704.6 663.9ZM705.4 667.4L708.3 668.5L709 671.7L706.1 670.6ZM707 674.3L709.7 675.3L710.3 678.2L707.6 677.2ZM709 681.7L710.8 682.3L711.2 684.2L709.4 683.6ZM711 689L711.9 689.3L712.1 690.3L711.2 690ZM704.4 631.1L705.4 631.4L705.7 632.5L704.7 632.2ZM705.5 637.3L707.2 637.9L707.5 639.7L705.8 639.1ZM706.5 643.5L708.9 644.4L709.4 646.9L707 646ZM707.6 649.8L710.5 650.9L711.2 654L708.3 652.9ZM709 656.5L712 657.6L712.7 660.7L709.7 659.6ZM710.5 663.2L713.4 664.3L714.1 667.4L711.2 666.3ZM712 670L714.8 671L715.5 674L712.7 673ZM714 677.3L716 678L716.4 680.1L714.4 679.4ZM716 684.6L717.1 685L717.3 686.2L716.2 685.8ZM708.2 620.3L709 620.6L709.2 621.4L708.4 621.1ZM709.4 626.7L710.6 627.1L710.9 628.4L709.7 628ZM710.4 632.9L712.3 633.6L712.8 635.6L710.9 634.9ZM711.5 639.1L714 640.1L714.6 642.8L712.1 641.8ZM712.7 645.5L715.6 646.6L716.3 649.8L713.4 648.7ZM714.1 652.2L717.1 653.3L717.8 656.5L714.8 655.4ZM715.6 658.9L718.5 660L719.2 663.2L716.3 662.1ZM717 665.6L720 666.7L720.7 669.9L717.7 668.8ZM718.9 672.8L721.2 673.7L721.7 676.1L719.4 675.2ZM720.9 680.2L722.3 680.7L722.6 682.1L721.2 681.6ZM713.3 616L714.1 616.3L714.3 617.2L713.5 616.9ZM714.2 622.1L715.9 622.7L716.3 624.5L714.6 623.9ZM715.4 628.5L717.5 629.3L718 631.5L715.9 630.7ZM716.5 634.7L719.2 635.7L719.8 638.7L717.1 637.7ZM717.8 641.3L720.7 642.4L721.4 645.5L718.5 644.4ZM719.2 648L722.2 649.1L722.9 652.2L719.9 651.1ZM720.7 654.7L723.6 655.8L724.3 658.9L721.4 657.8ZM722.1 661.4L725.1 662.5L725.8 665.6L722.8 664.5ZM723.7 668.2L726.5 669.2L727.1 672.2L724.3 671.2ZM725.6 675.5L727.6 676.2L728.1 678.3L726.1 677.6ZM727.5 682.6L728.8 683.1L729.1 684.6L727.8 684.1ZM718.3 611.7L719.3 612L719.5 613L718.5 612.7ZM718.9 617.3L721.3 618.2L721.8 620.8L719.4 619.9ZM720.2 623.9L722.8 624.9L723.4 627.6L720.8 626.6ZM721.4 630.3L724.4 631.4L725.1 634.6L722.1 633.5ZM722.9 637L725.8 638.1L726.5 641.3L723.6 640.2ZM724.3 643.7L727.3 644.8L728 648L725 646.9ZM725.8 650.4L728.7 651.5L729.4 654.7L726.5 653.6ZM727.2 657.1L730.2 658.2L730.9 661.4L727.9 660.3ZM728.7 663.8L731.6 664.9L732.3 668.1L729.4 667ZM730.2 670.6L733 671.7L733.7 674.7L730.9 673.6ZM732 677.7L734.3 678.6L734.8 681L732.5 680.1ZM723.6 612.7L726.6 613.8L727.3 616.9L724.3 615.8ZM725.1 619.4L728 620.5L728.7 623.6L725.8 622.5ZM726.5 626.1L729.5 627.2L730.2 630.3L727.2 629.2ZM728 632.8L730.9 633.9L731.6 637L728.7 635.9ZM729.4 639.5L732.4 640.6L733.1 643.7L730.1 642.6ZM730.9 646.2L733.8 647.3L734.5 650.4L731.6 649.3ZM732.3 652.9L735.3 654L736 657.1L733 656ZM733.8 659.6L736.7 660.7L737.4 663.8L734.5 662.7ZM735.2 666.3L738.2 667.4L738.9 670.5L735.9 669.4ZM736.7 673L739.6 674.1L740.3 677.2L737.4 676.1ZM728.6 603.2L729.4 603.6L729.6 604.5L728.8 604.1ZM728.8 608.5L731.6 609.6L732.3 612.6L729.5 611.5ZM730.2 615.1L733.1 616.2L733.8 619.4L730.9 618.3ZM731.6 621.8L734.6 622.9L735.3 626.1L732.3 625ZM733.1 628.5L736 629.6L736.7 632.8L733.8 631.7ZM734.5 635.2L737.5 636.3L738.2 639.5L735.2 638.4ZM736 641.9L738.9 643L739.6 646.2L736.7 645.1ZM737.4 648.6L740.4 649.7L741.1 652.9L738.1 651.8ZM738.9 655.3L741.8 656.4L742.5 659.6L739.6 658.5ZM740.3 662L743.3 663.1L744 666.3L741 665.2ZM741.8 668.7L744.7 669.8L745.4 673L742.5 671.9ZM733.4 598.7L734.7 599.2L735 600.5L733.7 600ZM734.2 604.6L736.6 605.5L737.1 608L734.7 607.1ZM735.3 610.9L738.2 612L738.9 615.1L736 614ZM736.7 617.6L739.7 618.7L740.4 621.8L737.4 620.7ZM738.2 624.3L741.1 625.4L741.8 628.5L738.9 627.4ZM739.6 631L742.6 632.1L743.3 635.2L740.3 634.1ZM741.1 637.7L744 638.8L744.7 641.9L741.8 640.8ZM742.5 644.4L745.5 645.5L746.2 648.6L743.2 647.5ZM744 651.1L746.9 652.2L747.6 655.3L744.7 654.2ZM745.4 657.8L748.4 658.9L749.1 662L746.1 660.9ZM746.9 664.5L749.8 665.6L750.5 668.7L747.6 667.6ZM739.8 600.9L741.4 601.5L741.7 603.2L740.1 602.6ZM740.4 606.6L743.3 607.7L744 610.9L741.1 609.8ZM741.8 613.3L744.8 614.4L745.5 617.6L742.5 616.5ZM743.3 620L746.2 621.1L746.9 624.3L744 623.2ZM744.7 626.7L747.7 627.8L748.4 631L745.4 629.9ZM746.2 633.4L749.1 634.5L749.8 637.7L746.9 636.6ZM747.6 640.1L750.6 641.2L751.3 644.4L748.3 643.3ZM749.1 646.8L752 647.9L752.7 651.1L749.8 650ZM750.5 653.5L753.5 654.6L754.2 657.8L751.2 656.7ZM745.5 602.4L748.4 603.5L749.1 606.6L746.2 605.5ZM746.9 609.1L749.9 610.2L750.6 613.3L747.6 612.2ZM748.4 615.8L751.3 616.9L752 620L749.1 618.9ZM749.8 622.5L752.8 623.6L753.5 626.7L750.5 625.6ZM751.3 629.2L754.2 630.3L754.9 633.4L752 632.3ZM752.7 635.9L755.7 637L756.4 640.1L753.4 639ZM754.2 642.6L757.1 643.7L757.8 646.8L754.9 645.7ZM755.6 649.3L758.6 650.4L759.3 653.5L756.3 652.4ZM750.1 592.5L751.5 593.1L751.8 594.6L750.4 594ZM750.9 598.5L753.3 599.4L753.9 602L751.5 601.1ZM752 604.8L755 605.9L755.7 609.1L752.7 608ZM753.5 611.5L756.4 612.6L757.1 615.8L754.2 614.7ZM754.9 618.2L757.9 619.3L758.6 622.5L755.6 621.4ZM756.4 624.9L759.3 626L760 629.2L757.1 628.1ZM757.8 631.6L760.8 632.7L761.5 635.9L758.5 634.8ZM759.3 638.3L762.2 639.4L762.9 642.6L760 641.5ZM760.7 645L763.7 646.1L764.4 649.3L761.4 648.2ZM756.9 595.3L757.9 595.6L758.1 596.7L757.1 596.4ZM757.1 600.6L760.1 601.7L760.8 604.8L757.8 603.7ZM758.6 607.3L761.5 608.4L762.2 611.5L759.3 610.4ZM760 614L763 615.1L763.7 618.2L760.7 617.1ZM761.5 620.7L764.4 621.8L765.1 624.9L762.2 623.8ZM762.9 627.4L765.9 628.5L766.6 631.6L763.6 630.5ZM764.4 634.1L767.3 635.2L768 638.3L765.1 637.2ZM765.8 640.8L768.8 641.9L769.5 645L766.5 643.9ZM761.7 590.7L763.1 591.3L763.5 592.8L762.1 592.2ZM762.6 596.7L765 597.6L765.5 600.2L763.1 599.3ZM763.7 603L766.6 604.1L767.3 607.3L764.4 606.2ZM765.1 609.7L768.1 610.8L768.8 614L765.8 612.9ZM766.6 616.4L769.5 617.5L770.2 620.7L767.3 619.6ZM768 623.1L771 624.2L771.7 627.4L768.7 626.3ZM769.5 629.8L772.4 630.9L773.1 634.1L770.2 633ZM770.9 636.5L773.9 637.6L774.6 640.8L771.6 639.7ZM768.7 593.6L769.5 593.9L769.6 594.8L768.8 594.5ZM768.8 598.8L771.7 599.9L772.4 603L769.5 601.9ZM770.2 605.5L773.2 606.6L773.9 609.7L770.9 608.6ZM771.7 612.2L774.6 613.3L775.3 616.4L772.4 615.3ZM773.4 619.1L775.9 620.1L776.5 622.9L774 621.9ZM774.6 625.6L777.5 626.7L778.2 629.8L775.3 628.7ZM774.7 595.5L776.3 596.1L776.7 597.8L775.1 597.2ZM775.3 601.2L778.3 602.3L779 605.5L776 604.4ZM776.8 607.9L779.7 609L780.4 612.2L777.5 611.1ZM779 615.6L780.7 616.2L781.1 617.9L779.4 617.3ZM780.6 622.4L782.1 622.9L782.4 624.5L780.9 624ZM779.9 591.3L781.4 591.9L781.7 593.5L780.2 592.9ZM781 597.7L783 598.4L783.5 600.5L781.5 599.8ZM782.1 603.9L784.7 604.9L785.3 607.7L782.7 606.7ZM784.4 611.6L785.6 612.1L785.9 613.4L784.7 612.9ZM786 618.5L787 618.9L787.2 619.9L786.2 619.5ZM786.7 594L787.8 594.5L788 595.7L786.9 595.2ZM788.2 600.8L789.2 601.2L789.4 602.3L788.4 601.9ZM789.7 607.6L790.6 607.9L790.8 608.9L789.9 608.6ZM794.8 603.3L795.7 603.7L795.9 604.7L795 604.3Z" fill="#fff"/>
<path d="M793.6 603.6C793 601.6 790.6 598.9 788.1 597.3C785.6 595.7 782.4 594.9 778.8 594.2C775.1 593.6 770.9 593.1 766.2 593.4C761.5 593.7 755.8 594.5 750.6 595.8C745.4 597.1 740.2 598.7 735 601.2C729.8 603.7 724.4 607 719.4 610.6C714.4 614.2 709.5 618.7 705.3 623.1C701.1 627.5 697.4 632.5 694.4 637.2C691.4 641.9 688.9 646.5 687.3 651.2C685.7 655.9 684.8 660.9 684.7 665.3C684.6 669.7 685.2 673.9 686.6 677.8C688 681.7 690.5 685.9 692.8 688.8C695.1 691.7 697.7 693.8 700.6 695C703.5 696.2 706.4 696.8 710 695.8C713.6 694.8 717.8 692.3 722.5 688.8C727.2 685.3 732.9 679.9 738.1 674.7C743.3 669.5 748.6 663.5 753.8 657.5C759 651.5 764.5 645 769.4 638.8C774.3 632.5 779.6 625 783.4 620C787.2 615 790.3 611.7 792 609C793.7 606.3 794.2 605.6 793.6 603.6Z" fill="none" stroke="#000" stroke-width="1.3"/>
<clipPath id="m8"><path d="M950.6 640.6C950.1 638.1 947.3 635.3 944.4 633.6C941.5 631.9 937.6 631.1 933.4 630.5C929.2 629.9 924.3 629.3 919.4 629.7C914.5 630.1 909 631.2 903.8 632.8C898.6 634.3 893.3 636.4 888.1 639C882.9 641.6 877.2 645 872.5 648.4C867.8 651.8 863.6 655.5 860 659.4C856.4 663.3 853 667.7 850.6 671.9C848.2 676.1 846.4 680.1 845.6 684.4C844.8 688.7 845.3 693.3 845.9 697.5C846.5 701.7 847.6 706.2 849.2 709.8C850.8 713.4 853.3 716.8 855.5 719C857.7 721.2 860.1 722.6 862.5 723C864.9 723.4 866 723.4 869.8 721.6C873.5 719.9 879.3 716.6 885 712.5C890.7 708.4 897.5 702.6 903.8 696.9C910 691.2 916.8 684.1 922.5 678.1C928.2 672.1 933.9 665.9 938.1 660.9C942.3 655.9 945.4 651.8 947.5 648.4C949.6 645 951.1 643.1 950.6 640.6Z"/></clipPath>
<path d="M950.6 640.6C950.1 638.1 947.3 635.3 944.4 633.6C941.5 631.9 937.6 631.1 933.4 630.5C929.2 629.9 924.3 629.3 919.4 629.7C914.5 630.1 909 631.2 903.8 632.8C898.6 634.3 893.3 636.4 888.1 639C882.9 641.6 877.2 645 872.5 648.4C867.8 651.8 863.6 655.5 860 659.4C856.4 663.3 853 667.7 850.6 671.9C848.2 676.1 846.4 680.1 845.6 684.4C844.8 688.7 845.3 693.3 845.9 697.5C846.5 701.7 847.6 706.2 849.2 709.8C850.8 713.4 853.3 716.8 855.5 719C857.7 721.2 860.1 722.6 862.5 723C864.9 723.4 866 723.4 869.8 721.6C873.5 719.9 879.3 716.6 885 712.5C890.7 708.4 897.5 702.6 903.8 696.9C910 691.2 916.8 684.1 922.5 678.1C928.2 672.1 933.9 665.9 938.1 660.9C942.3 655.9 945.4 651.8 947.5 648.4C949.6 645 951.1 643.1 950.6 640.6Z" fill="#000"/>
<path clip-path="url(#m8)" d="M848.7 682.5L849.3 682.8L849.4 683.5L848.8 683.3ZM849.6 688.6L850.5 688.9L850.6 689.9L849.7 689.5ZM850.6 694.7L851.6 695.1L851.7 696.2L850.7 695.8ZM851.6 700.9L852.6 701.3L852.8 702.4L851.8 702ZM852.7 707.2L853.6 707.5L853.8 708.5L852.9 708.1ZM852.6 672.6L853.2 672.9L853.3 673.6L852.7 673.3ZM853.4 678.5L854.4 678.9L854.6 680.1L853.6 679.7ZM854.2 684.4L855.7 685L855.9 686.6L854.4 686ZM855.1 690.5L856.8 691.2L857.1 692.9L855.4 692.2ZM856.2 696.6L857.8 697.3L858.1 699.2L856.5 698.5ZM857.3 702.9L858.9 703.6L859.1 705.3L857.5 704.6ZM858.5 709.3L859.8 709.9L860 711.3L858.7 710.7ZM859.8 715.8L860.7 716.2L860.8 717.2L859.9 716.8ZM857.4 668.7L858.3 669.1L858.4 670L857.5 669.7ZM858.1 674.5L859.5 675.1L859.8 676.6L858.4 676ZM858.9 680.4L860.8 681.1L861.1 683.2L859.2 682.4ZM859.7 686.3L862 687.2L862.4 689.6L860.1 688.7ZM860.7 692.4L863.1 693.4L863.5 695.9L861.1 695ZM861.8 698.6L864.1 699.6L864.5 702.1L862.2 701.1ZM863 705L865.1 705.9L865.4 708.1L863.3 707.3ZM864.3 711.6L865.9 712.2L866.2 713.9L864.6 713.3ZM865.9 718.4L866.6 718.7L866.7 719.5L866 719.2ZM862.2 664.8L863.3 665.3L863.5 666.4L862.4 666ZM862.9 670.6L864.6 671.3L864.9 673.1L863.2 672.4ZM863.6 676.4L865.9 677.3L866.3 679.7L864 678.8ZM864.5 682.3L867.1 683.4L867.5 686.1L864.9 685.1ZM865.5 688.5L868.1 689.6L868.6 692.3L866 691.3ZM866.6 694.7L869.2 695.8L869.6 698.5L867 697.5ZM867.6 700.9L870.2 702L870.7 704.7L868.1 703.7ZM869.1 707.6L871 708.4L871.3 710.4L869.4 709.7ZM870.6 714.4L871.7 714.8L871.9 716.1L870.8 715.6ZM871.9 720.9L872.6 721.2L872.7 721.9L872 721.6ZM866.1 654.9L867.2 655.3L867.4 656.5L866.3 656ZM867 660.9L868.4 661.4L868.6 662.9L867.2 662.3ZM867.7 666.7L869.6 667.5L870 669.5L868.1 668.7ZM868.5 672.5L870.9 673.5L871.3 676.1L868.9 675.1ZM869.4 678.6L872 679.6L872.5 682.4L869.9 681.3ZM870.5 684.8L873.1 685.8L873.5 688.6L870.9 687.5ZM871.5 691L874.1 692L874.6 694.8L872 693.7ZM872.6 697.2L875.2 698.2L875.6 701L873 699.9ZM873.7 703.4L876.2 704.4L876.6 707.1L874.1 706.1ZM875.1 710.1L876.9 710.9L877.3 712.8L875.5 712.1ZM876.4 716.6L877.8 717.2L878.1 718.7L876.7 718.1ZM871 651L872.2 651.5L872.4 652.8L871.2 652.3ZM871.6 656.7L873.5 657.5L873.9 659.6L872 658.8ZM872.5 662.7L874.7 663.6L875.1 666L872.9 665.1ZM873.3 668.6L875.9 669.7L876.4 672.5L873.8 671.4ZM874.4 674.8L877 675.9L877.4 678.7L874.8 677.6ZM875.4 681L878 682.1L878.5 684.9L875.9 683.8ZM876.5 687.2L879.1 688.3L879.5 691.1L876.9 690ZM877.5 693.4L880.1 694.5L880.6 697.3L878 696.2ZM878.6 699.6L881.2 700.7L881.6 703.5L879 702.4ZM879.6 705.8L882.2 706.9L882.7 709.7L880.1 708.6ZM880.9 712.3L883.1 713.2L883.5 715.5L881.3 714.7ZM876 647.3L877.1 647.8L877.3 649.1L876.2 648.6ZM876.2 652.5L878.8 653.5L879.2 656.3L876.6 655.3ZM877.2 658.7L879.8 659.7L880.3 662.5L877.7 661.5ZM878.3 664.9L880.9 665.9L881.3 668.7L878.7 667.7ZM879.3 671.1L881.9 672.1L882.4 674.9L879.8 673.9ZM880.4 677.3L883 678.3L883.4 681.1L880.8 680.1ZM881.4 683.5L884 684.5L884.5 687.3L881.9 686.3ZM882.5 689.7L885.1 690.7L885.5 693.5L882.9 692.5ZM883.5 695.9L886.1 696.9L886.6 699.7L884 698.7ZM884.6 702.1L887.2 703.1L887.6 705.9L885 704.9ZM885.6 708.3L888.2 709.3L888.7 712.1L886.1 711.1ZM881 643.8L882 644.1L882.2 645.2L881.2 644.8ZM881.1 648.7L883.7 649.8L884.2 652.6L881.6 651.5ZM882.2 654.9L884.8 656L885.2 658.8L882.6 657.7ZM883.2 661.1L885.8 662.2L886.3 665L883.7 663.9ZM884.3 667.3L886.9 668.4L887.3 671.2L884.7 670.1ZM885.3 673.5L887.9 674.6L888.4 677.4L885.8 676.3ZM886.4 679.7L889 680.8L889.4 683.6L886.8 682.5ZM887.4 685.9L890 687L890.5 689.8L887.9 688.7ZM888.5 692.1L891.1 693.2L891.5 696L888.9 694.9ZM889.5 698.3L892.1 699.4L892.6 702.2L890 701.1ZM890.6 704.5L893.2 705.6L893.6 708.4L891 707.3ZM886.1 640.2L886.8 640.5L887 641.2L886.3 641ZM886.1 645L888.7 646.1L889.1 648.8L886.5 647.8ZM887.1 651.2L889.7 652.3L890.2 655L887.6 654ZM888.2 657.4L890.8 658.5L891.2 661.2L888.6 660.2ZM889.2 663.6L891.8 664.7L892.3 667.4L889.7 666.4ZM890.3 669.8L892.9 670.9L893.3 673.6L890.7 672.6ZM891.3 676L893.9 677.1L894.4 679.8L891.8 678.8ZM892.4 682.2L895 683.3L895.4 686L892.8 685ZM893.4 688.4L896 689.5L896.5 692.2L893.9 691.2ZM894.5 694.6L897.1 695.7L897.5 698.4L894.9 697.4ZM895.5 700.8L898.1 701.9L898.6 704.6L896 703.6ZM891.1 636.5L891.8 636.7L891.9 637.5L891.2 637.2ZM891.1 641.4L893.5 642.4L894 645L891.6 644ZM892.1 647.5L894.7 648.5L895.1 651.3L892.5 650.2ZM893.1 653.7L895.7 654.7L896.2 657.5L893.6 656.4ZM894.2 659.9L896.8 660.9L897.2 663.7L894.6 662.6ZM895.2 666.1L897.8 667.1L898.3 669.9L895.7 668.8ZM896.3 672.3L898.9 673.3L899.3 676.1L896.7 675ZM897.3 678.5L899.9 679.5L900.4 682.3L897.8 681.2ZM898.4 684.7L901 685.7L901.4 688.5L898.8 687.4ZM899.4 690.9L902 691.9L902.5 694.7L899.9 693.6ZM900.5 697.1L903.1 698.1L903.5 700.9L900.9 699.8ZM895.7 632.3L897 632.8L897.2 634.2L895.9 633.7ZM896.4 638.1L898.2 638.8L898.6 640.8L896.8 640.1ZM897 643.7L899.6 644.8L900.1 647.6L897.5 646.5ZM898.1 649.9L900.7 651L901.1 653.8L898.5 652.7ZM899.1 656.1L901.7 657.2L902.2 660L899.6 658.9ZM900.2 662.3L902.8 663.4L903.2 666.2L900.6 665.1ZM901.2 668.5L903.8 669.6L904.3 672.4L901.7 671.3ZM902.3 674.7L904.9 675.8L905.3 678.6L902.7 677.5ZM903.3 680.9L905.9 682L906.4 684.8L903.8 683.7ZM904.4 687.1L907 688.2L907.4 691L904.8 689.9ZM905.4 693.3L908 694.4L908.5 697.2L905.9 696.1ZM901.7 634.8L903 635.3L903.2 636.6L901.9 636.1ZM902 640L904.6 641L905 643.8L902.4 642.8ZM903 646.2L905.6 647.2L906.1 650L903.5 649ZM904.1 652.4L906.7 653.4L907.1 656.2L904.5 655.2ZM905.1 658.6L907.7 659.6L908.2 662.4L905.6 661.4ZM906.2 664.8L908.8 665.8L909.2 668.6L906.6 667.6ZM907.2 671L909.8 672L910.3 674.8L907.7 673.8ZM908.3 677.2L910.9 678.2L911.3 681L908.7 680ZM909.3 683.4L911.9 684.4L912.4 687.2L909.8 686.2ZM910.4 689.6L913 690.6L913.4 693.4L910.8 692.4ZM906.9 636.2L909.5 637.3L910 640.1L907.4 639ZM908 642.4L910.6 643.5L911 646.3L908.4 645.2ZM909 648.6L911.6 649.7L912.1 652.5L909.5 651.4ZM910.1 654.8L912.7 655.9L913.1 658.7L910.5 657.6ZM911.1 661L913.7 662.1L914.2 664.9L911.6 663.8ZM912.2 667.2L914.8 668.3L915.2 671.1L912.6 670ZM913.2 673.4L915.8 674.5L916.3 677.3L913.7 676.2ZM914.3 679.6L916.9 680.7L917.3 683.5L914.7 682.4ZM915.3 685.8L917.9 686.9L918.4 689.7L915.8 688.6ZM911.5 627.1L912.9 627.7L913.2 629.3L911.8 628.7ZM912.4 633.2L914.1 633.9L914.4 635.7L912.7 635ZM912.9 638.7L915.5 639.8L916 642.5L913.4 641.5ZM914 644.9L916.6 646L917 648.7L914.4 647.7ZM915 651.1L917.6 652.2L918.1 654.9L915.5 653.9ZM916.1 657.3L918.7 658.4L919.1 661.1L916.5 660.1ZM917.1 663.5L919.7 664.6L920.2 667.3L917.6 666.3ZM918.2 669.7L920.8 670.8L921.2 673.5L918.6 672.5ZM919.2 675.9L921.8 677L922.3 679.7L919.7 678.7ZM917.9 630.1L918.7 630.4L918.8 631.2L918 630.9ZM917.9 635L920.5 636L920.9 638.8L918.3 637.7ZM918.9 641.2L921.5 642.2L922 645L919.4 643.9ZM920 647.4L922.6 648.4L923 651.2L920.4 650.1ZM921 653.6L923.6 654.6L924.1 657.4L921.5 656.3ZM922.1 659.8L924.7 660.8L925.1 663.6L922.5 662.5ZM923.1 666L925.7 667L926.2 669.8L923.6 668.7ZM924.2 672.2L926.8 673.2L927.2 676L924.6 674.9ZM922.4 625.8L923.9 626.4L924.2 628.1L922.7 627.4ZM923.4 632L925 632.6L925.3 634.3L923.7 633.7ZM923.9 637.4L926.5 638.5L926.9 641.3L924.3 640.2ZM924.9 643.6L927.5 644.7L928 647.5L925.4 646.4ZM926 649.8L928.6 650.9L929 653.7L926.4 652.6ZM927 656L929.6 657.1L930.1 659.9L927.5 658.8ZM928.2 662.4L930.6 663.3L931 665.9L928.6 664.9ZM929.1 668.4L931.7 669.5L932.2 672.3L929.6 671.2ZM928.8 628.8L929.6 629.1L929.8 630L929 629.7ZM929 633.9L931.3 634.8L931.7 637.3L929.4 636.4ZM929.9 639.9L932.5 640.9L932.9 643.7L930.3 642.7ZM930.9 646.1L933.5 647.1L934 649.9L931.4 648.9ZM932.3 652.6L934.4 653.5L934.7 655.8L932.6 654.9ZM933.8 659.5L935 660L935.3 661.3L934.1 660.8ZM934.6 665.3L936.3 666L936.6 667.9L934.9 667.2ZM934.9 631.3L935.6 631.6L935.7 632.4L935 632.1ZM934.9 636.3L937.3 637.3L937.8 639.9L935.4 638.9ZM935.9 642.3L938.5 643.4L938.9 646.2L936.3 645.1ZM937.4 649.2L939.2 649.9L939.5 651.7L937.7 651ZM939.1 656.1L939.8 656.4L939.9 657.2L939.2 656.9ZM940.7 633.6L941.7 634L941.9 635.1L940.9 634.7ZM941.3 639.2L943.1 639.9L943.4 641.8L941.6 641.1ZM942.6 645.7L944 646.3L944.2 647.7L942.8 647.2ZM947.9 642.5L948.6 642.7L948.8 643.5L948.1 643.2ZM948.9 648.5L949.8 648.9L949.9 649.8L949 649.5Z" fill="#fff"/>
<path d="M950.6 640.6C950.1 638.1 947.3 635.3 944.4 633.6C941.5 631.9 937.6 631.1 933.4 630.5C929.2 629.9 924.3 629.3 919.4 629.7C914.5 630.1 909 631.2 903.8 632.8C898.6 634.3 893.3 636.4 888.1 639C882.9 641.6 877.2 645 872.5 648.4C867.8 651.8 863.6 655.5 860 659.4C856.4 663.3 853 667.7 850.6 671.9C848.2 676.1 846.4 680.1 845.6 684.4C844.8 688.7 845.3 693.3 845.9 697.5C846.5 701.7 847.6 706.2 849.2 709.8C850.8 713.4 853.3 716.8 855.5 719C857.7 721.2 860.1 722.6 862.5 723C864.9 723.4 866 723.4 869.8 721.6C873.5 719.9 879.3 716.6 885 712.5C890.7 708.4 897.5 702.6 903.8 696.9C910 691.2 916.8 684.1 922.5 678.1C928.2 672.1 933.9 665.9 938.1 660.9C942.3 655.9 945.4 651.8 947.5 648.4C949.6 645 951.1 643.1 950.6 640.6Z" fill="none" stroke="#000" stroke-width="1.3"/>
<g aria-label="P 18">
<path transform="translate(324.7 234.9)" d="M1.55 0V-32.45H15.75A8.4 8.4 0 0 1 15.75 -15.65H1.55" class="g"/>
<path transform="translate(366 234.9)" d="M10.2 0V-34M0 -26.5H4C7.5 -26.5 9 -29.5 9.2 -33.5" class="g"/>
<ellipse transform="translate(386 234.9)" cx="11.35" cy="-26.2" rx="7.95" ry="6.9" class="g"/>
<ellipse transform="translate(386 234.9)" cx="11.4" cy="-9.3" rx="9.85" ry="8.45" class="g"/>
<text x="321" y="234.9" font-size="47" textLength="90" lengthAdjust="spacingAndGlyphs" class="t">P 18</text>
</g>
<g aria-label="D 8,5">
<path transform="translate(530.8 326.4)" d="M1.55 -1.55V-32.45H11.5C21.5 -32.45 26.95 -26 26.95 -17C26.95 -8 21.5 -1.55 11.5 -1.55Z" class="g"/>
<ellipse transform="translate(571.2 326.4)" cx="11.35" cy="-26.2" rx="7.95" ry="6.9" class="g"/>
<ellipse transform="translate(571.2 326.4)" cx="11.4" cy="-9.3" rx="9.85" ry="8.45" class="g"/>
<path transform="translate(597.6 326.4)" d="M0.9 -4.3H5.2V0.5C5.2 3.6 3.5 5.9 0.8 6.7L0.3 5.3C2 4.6 3 3 3.1 0H0.9Z" fill="#111"/>
<path transform="translate(607.3 326.4)" d="M20.8 -31.75H5.3L2.8 -15.9C5 -18.5 8 -19.8 12 -19.8C17.5 -19.8 21 -15.8 21 -10.5C21 -5 17.5 -1.15 12 -1.15C6.5 -1.15 2 -3.5 1.4 -8.8" class="g" stroke-linejoin="round"/>
<text x="527" y="326.4" font-size="47" textLength="105" lengthAdjust="spacingAndGlyphs" class="t">D 8,5</text>
</g>
<g aria-label="2,5">
<path transform="translate(675.9 422.5)" d="M1.75 -22C1.75 -28 5.5 -32.3 11.2 -32.3C16.8 -32.3 20.4 -29 20.4 -24.4C20.4 -19.5 16.5 -17 11 -13.3C5.5 -9.6 2 -6.5 1.6 -1.55H22.1" class="g"/>
<path transform="translate(701.7 422.5)" d="M0.9 -4.3H5.2V0.5C5.2 3.6 3.5 5.9 0.8 6.7L0.3 5.3C2 4.6 3 3 3.1 0H0.9Z" fill="#111"/>
<path transform="translate(711.2 422.5)" d="M20.8 -31.75H5.3L2.8 -15.9C5 -18.5 8 -19.8 12 -19.8C17.5 -19.8 21 -15.8 21 -10.5C21 -5 17.5 -1.15 12 -1.15C6.5 -1.15 2 -3.5 1.4 -8.8" class="g" stroke-linejoin="round"/>
<text x="673" y="422.5" font-size="47" textLength="63" lengthAdjust="spacingAndGlyphs" class="t">2,5</text>
</g>
<g aria-label="17">
<path transform="translate(61.3 519.8)" d="M10.2 0V-34M0 -26.5H4C7.5 -26.5 9 -29.5 9.2 -33.5" class="g"/>
<path transform="translate(80.1 519.8)" d="M0 -32.1H20.4C13.5 -23.5 8.8 -12.5 7.2 0" class="g"/>
<text x="58" y="519.8" font-size="47" textLength="47" lengthAdjust="spacingAndGlyphs" class="t">17</text>
</g>
<g aria-label="70">
<path transform="translate(540.9 815.8)" d="M0 -32.1H20.4C13.5 -23.5 8.8 -12.5 7.2 0" class="g"/>
<ellipse transform="translate(565.2 815.8)" cx="11.95" cy="-16.4" rx="10.4" ry="15.9" class="g"/>
<text x="538" y="815.8" font-size="47" textLength="54" lengthAdjust="spacingAndGlyphs" class="t">70</text>
</g>
</svg>
</body></html>
